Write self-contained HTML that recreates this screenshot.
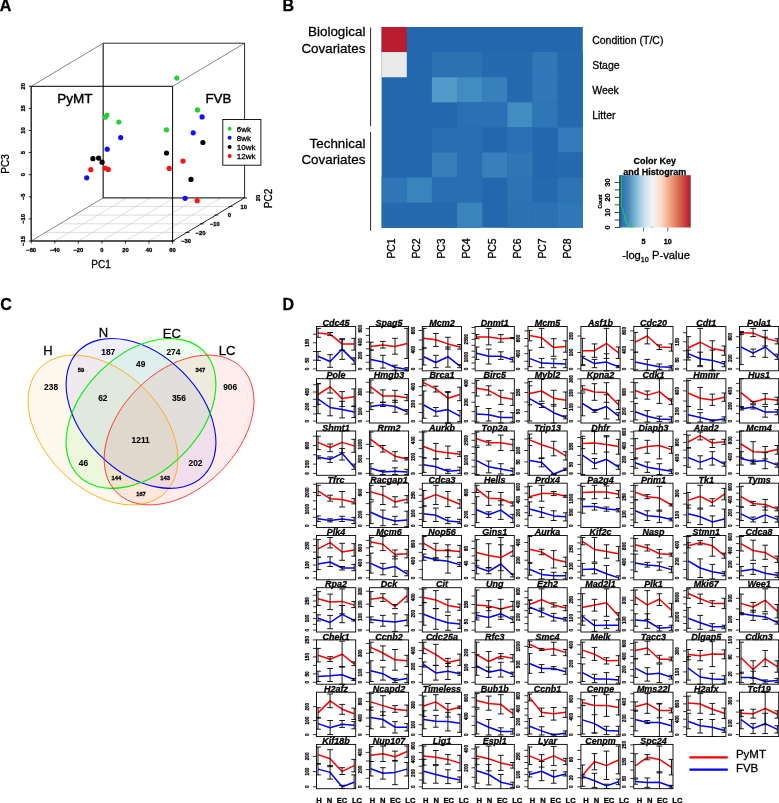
<!DOCTYPE html>
<html lang="en"><head><meta charset="utf-8"><title>Figure</title>
<style>html,body{margin:0;padding:0;background:#fff}body{width:779px;height:803px;overflow:hidden;font-family:'Liberation Sans', sans-serif}svg{display:block}</style>
</head><body>
<svg width="779" height="803" viewBox="0 0 779 803" font-family="'Liberation Sans', sans-serif" fill="#000" stroke-linecap="butt"><style>text{stroke:#000;stroke-width:0.28px;paint-order:stroke}.ns text{stroke-width:0.08px}</style>
<text x="-0.3" y="11" font-size="16" font-weight="bold">A</text>
<text x="282.4" y="11" font-size="16" font-weight="bold">B</text>
<text x="0.3" y="309.7" font-size="16" font-weight="bold">C</text>
<text x="282.5" y="309.7" font-size="16" font-weight="bold">D</text>
<g stroke="#cfcfd6" stroke-width="0.7"><line x1="45.6" y1="232.4" x2="187.0" y2="232.4"/><line x1="60.0" y1="223.8" x2="201.4" y2="223.8"/><line x1="74.4" y1="215.1" x2="215.8" y2="215.1"/><line x1="88.8" y1="206.5" x2="230.2" y2="206.5"/><line x1="54.8" y1="241.0" x2="126.8" y2="197.9"/><line x1="78.3" y1="241.0" x2="150.3" y2="197.9"/><line x1="101.9" y1="241.0" x2="173.9" y2="197.9"/><line x1="125.5" y1="241.0" x2="197.5" y2="197.9"/><line x1="149.0" y1="241.0" x2="221.0" y2="197.9"/></g>
<g stroke="#333" stroke-width="0.6" fill="none"><line x1="31.2" y1="86.3" x2="103.2" y2="43.199999999999996"/><line x1="172.6" y1="86.3" x2="244.6" y2="43.199999999999996"/><line x1="31.2" y1="241.0" x2="103.2" y2="197.9"/></g>
<g stroke="#111" stroke-width="0.9" fill="none"><path d="M103.2 43.2H244.6V197.9"/><line x1="172.6" y1="241.0" x2="244.6" y2="197.9"/></g>
<path d="M103.2 43.2V197.9H244.6" stroke="#333" stroke-width="1.3" fill="none"/>
<path d="M31.2 86.3H172.6V241.0" fill="none" stroke="#000" stroke-width="1.0"/>
<path d="M31.2 86.3V241.0H172.6" fill="none" stroke="#222" stroke-width="1.4"/>
<g stroke="#000" stroke-width="0.8"><line x1="31.2" y1="241.0" x2="31.2" y2="243.5"/><line x1="54.8" y1="241.0" x2="54.8" y2="243.5"/><line x1="78.3" y1="241.0" x2="78.3" y2="243.5"/><line x1="101.9" y1="241.0" x2="101.9" y2="243.5"/><line x1="125.5" y1="241.0" x2="125.5" y2="243.5"/><line x1="149.0" y1="241.0" x2="149.0" y2="243.5"/><line x1="172.6" y1="241.0" x2="172.6" y2="243.5"/><line x1="31.2" y1="241.0" x2="28.7" y2="241.0"/><line x1="31.2" y1="218.9" x2="28.7" y2="218.9"/><line x1="31.2" y1="196.8" x2="28.7" y2="196.8"/><line x1="31.2" y1="174.7" x2="28.7" y2="174.7"/><line x1="31.2" y1="152.6" x2="28.7" y2="152.6"/><line x1="31.2" y1="130.5" x2="28.7" y2="130.5"/><line x1="31.2" y1="108.4" x2="28.7" y2="108.4"/><line x1="31.2" y1="86.3" x2="28.7" y2="86.3"/><line x1="171.1" y1="241.0" x2="175.1" y2="241.0"/><line x1="185.5" y1="232.4" x2="189.5" y2="232.4"/><line x1="199.9" y1="223.8" x2="203.9" y2="223.8"/><line x1="214.3" y1="215.1" x2="218.3" y2="215.1"/><line x1="228.7" y1="206.5" x2="232.7" y2="206.5"/><line x1="243.1" y1="197.9" x2="247.1" y2="197.9"/></g>
<g font-size="5.8" font-weight="bold"><text x="31.2" y="252.2" text-anchor="middle">−60</text><text x="54.8" y="252.2" text-anchor="middle">−40</text><text x="78.3" y="252.2" text-anchor="middle">−20</text><text x="101.9" y="252.2" text-anchor="middle">0</text><text x="125.5" y="252.2" text-anchor="middle">20</text><text x="149.0" y="252.2" text-anchor="middle">40</text><text x="172.6" y="252.2" text-anchor="middle">60</text><text transform="translate(24.5,241.0) rotate(-90)" text-anchor="middle">−15</text><text transform="translate(24.5,218.9) rotate(-90)" text-anchor="middle">−10</text><text transform="translate(24.5,196.8) rotate(-90)" text-anchor="middle">−5</text><text transform="translate(24.5,174.7) rotate(-90)" text-anchor="middle">0</text><text transform="translate(24.5,152.6) rotate(-90)" text-anchor="middle">5</text><text transform="translate(24.5,130.5) rotate(-90)" text-anchor="middle">10</text><text transform="translate(24.5,108.4) rotate(-90)" text-anchor="middle">15</text><text transform="translate(24.5,86.3) rotate(-90)" text-anchor="middle">20</text><text x="186.1" y="243.1" text-anchor="middle">−30</text><text x="200.5" y="234.5" text-anchor="middle">−20</text><text x="214.9" y="225.9" text-anchor="middle">−10</text><text x="229.3" y="217.2" text-anchor="middle">0</text><text x="243.7" y="208.6" text-anchor="middle">10</text><text transform="translate(259.6,198) rotate(-90)" text-anchor="middle">20</text></g>
<text x="101" y="268.4" font-size="10" text-anchor="middle">PC1</text>
<text transform="translate(8.6,164) rotate(-90)" font-size="10" text-anchor="middle">PC3</text>
<text transform="translate(272,198.5) rotate(-90)" font-size="10" text-anchor="middle">PC2</text>
<text x="57.3" y="103.3" font-size="13.5" style="stroke-width:0.4px">PyMT</text>
<text x="205.4" y="103.2" font-size="13.3" style="stroke-width:0.4px">FVB</text>
<g fill="#26d030"><circle cx="176.8" cy="78.1" r="2.6"/><circle cx="106.9" cy="115.0" r="2.6"/><circle cx="105.3" cy="117.2" r="2.6"/><circle cx="118.8" cy="122.0" r="2.6"/><circle cx="166.5" cy="129.8" r="2.6"/><circle cx="197.5" cy="109.9" r="2.6"/></g>
<g fill="#1010ff"><circle cx="202.1" cy="116.9" r="2.6"/><circle cx="193.2" cy="132.8" r="2.6"/><circle cx="120.7" cy="137.6" r="2.6"/><circle cx="107.2" cy="149.2" r="2.6"/><circle cx="86.7" cy="177.8" r="2.6"/><circle cx="185.1" cy="198.3" r="2.6"/></g>
<g fill="#000000"><circle cx="202.9" cy="142.5" r="2.6"/><circle cx="166.5" cy="153.0" r="2.6"/><circle cx="92.9" cy="158.7" r="2.6"/><circle cx="98.6" cy="158.1" r="2.6"/><circle cx="102.1" cy="162.2" r="2.6"/><circle cx="191.0" cy="179.4" r="2.6"/></g>
<g fill="#ff1010"><circle cx="90.8" cy="169.7" r="2.6"/><circle cx="105.0" cy="168.1" r="2.6"/><circle cx="108.3" cy="169.4" r="2.6"/><circle cx="169.2" cy="168.4" r="2.6"/><circle cx="183.0" cy="161.1" r="2.6"/><circle cx="197.2" cy="200.7" r="2.6"/></g>
<rect x="222.8" y="119.5" width="38.1" height="45.7" fill="#fff" stroke="#000" stroke-width="0.9"/>
<circle cx="229.6" cy="128.7" r="2" fill="#26d030"/><text x="236.8" y="131.5" font-size="8" style="stroke-width:0.3px">6wk</text>
<circle cx="229.6" cy="137.8" r="2" fill="#1010ff"/><text x="236.8" y="140.6" font-size="8" style="stroke-width:0.3px">8wk</text>
<circle cx="229.6" cy="146.9" r="2" fill="#000"/><text x="236.8" y="149.7" font-size="8" style="stroke-width:0.3px">10wk</text>
<circle cx="229.6" cy="156.0" r="2" fill="#ff1010"/><text x="236.8" y="158.8" font-size="8" style="stroke-width:0.3px">12wk</text>
<rect x="381.6" y="27.0" width="201.2" height="200.8" fill="#2368ae"/>
<rect x="381.60" y="27.00" width="25.20" height="25.15" fill="#b81c2d"/>
<rect x="381.60" y="52.10" width="25.20" height="25.15" fill="#e9e9ea"/>
<rect x="431.90" y="52.10" width="25.20" height="25.15" fill="#2b72b3"/>
<rect x="457.05" y="52.10" width="25.20" height="25.15" fill="#2b72b3"/>
<rect x="482.20" y="52.10" width="25.20" height="25.15" fill="#256aaf"/>
<rect x="507.35" y="52.10" width="25.20" height="25.15" fill="#256aaf"/>
<rect x="532.50" y="52.10" width="25.20" height="25.15" fill="#3078b7"/>
<rect x="557.65" y="52.10" width="25.20" height="25.15" fill="#256aaf"/>
<rect x="431.90" y="77.20" width="25.20" height="25.15" fill="#519ac9"/>
<rect x="457.05" y="77.20" width="25.20" height="25.15" fill="#418cc1"/>
<rect x="482.20" y="77.20" width="25.20" height="25.15" fill="#3780bb"/>
<rect x="507.35" y="77.20" width="25.20" height="25.15" fill="#256aaf"/>
<rect x="532.50" y="77.20" width="25.20" height="25.15" fill="#3078b7"/>
<rect x="557.65" y="77.20" width="25.20" height="25.15" fill="#256aaf"/>
<rect x="457.05" y="102.30" width="25.20" height="25.15" fill="#2a70b2"/>
<rect x="482.20" y="102.30" width="25.20" height="25.15" fill="#2a70b2"/>
<rect x="507.35" y="102.30" width="25.20" height="25.15" fill="#418cc1"/>
<rect x="532.50" y="102.30" width="25.20" height="25.15" fill="#2f76b6"/>
<rect x="557.65" y="102.30" width="25.20" height="25.15" fill="#256aaf"/>
<rect x="431.90" y="127.40" width="25.20" height="25.15" fill="#286eb1"/>
<rect x="457.05" y="127.40" width="25.20" height="25.15" fill="#286eb1"/>
<rect x="507.35" y="127.40" width="25.20" height="25.15" fill="#2a70b2"/>
<rect x="557.65" y="127.40" width="25.20" height="25.15" fill="#327ab8"/>
<rect x="431.90" y="152.50" width="25.20" height="25.15" fill="#357eba"/>
<rect x="457.05" y="152.50" width="25.20" height="25.15" fill="#286eb1"/>
<rect x="482.20" y="152.50" width="25.20" height="25.15" fill="#3780bb"/>
<rect x="507.35" y="152.50" width="25.20" height="25.15" fill="#2f76b6"/>
<rect x="557.65" y="152.50" width="25.20" height="25.15" fill="#256aaf"/>
<rect x="381.60" y="177.60" width="25.20" height="25.15" fill="#2f76b6"/>
<rect x="406.75" y="177.60" width="25.20" height="25.15" fill="#3a84bd"/>
<rect x="431.90" y="177.60" width="25.20" height="25.15" fill="#286eb1"/>
<rect x="457.05" y="177.60" width="25.20" height="25.15" fill="#286eb1"/>
<rect x="507.35" y="177.60" width="25.20" height="25.15" fill="#2d74b4"/>
<rect x="532.50" y="177.60" width="25.20" height="25.15" fill="#256aaf"/>
<rect x="557.65" y="177.60" width="25.20" height="25.15" fill="#2d74b4"/>
<rect x="381.60" y="202.70" width="25.20" height="25.15" fill="#256aaf"/>
<rect x="406.75" y="202.70" width="25.20" height="25.15" fill="#256aaf"/>
<rect x="431.90" y="202.70" width="25.20" height="25.15" fill="#256aaf"/>
<rect x="457.05" y="202.70" width="25.20" height="25.15" fill="#3a84bd"/>
<rect x="507.35" y="202.70" width="25.20" height="25.15" fill="#2b72b3"/>
<rect x="532.50" y="202.70" width="25.20" height="25.15" fill="#2b72b3"/>
<rect x="557.65" y="202.70" width="25.20" height="25.15" fill="#3078b7"/>
<line x1="370.6" y1="27.5" x2="370.6" y2="126.2" stroke="#111" stroke-width="0.9"/>
<line x1="370.6" y1="132" x2="370.6" y2="230.7" stroke="#111" stroke-width="0.9"/>
<g font-size="13.4" text-anchor="end"><text x="365.4" y="36.3">Biological</text><text x="365.4" y="52.7">Covariates</text><text x="365.4" y="147.5">Technical</text><text x="365.4" y="164.3">Covariates</text></g>
<g font-size="10.5"><text x="592.2" y="44.1">Condition (T/C)</text><text x="592.2" y="69">Stage</text><text x="592.2" y="93.8">Week</text><text x="592.2" y="118.7">Litter</text></g>
<text transform="translate(394.9,258.6) rotate(-90)" font-size="10.4" style="stroke-width:0.32px">PC1</text>
<text transform="translate(420.0,258.6) rotate(-90)" font-size="10.4" style="stroke-width:0.32px">PC2</text>
<text transform="translate(445.2,258.6) rotate(-90)" font-size="10.4" style="stroke-width:0.32px">PC3</text>
<text transform="translate(470.3,258.6) rotate(-90)" font-size="10.4" style="stroke-width:0.32px">PC4</text>
<text transform="translate(495.5,258.6) rotate(-90)" font-size="10.4" style="stroke-width:0.32px">PC5</text>
<text transform="translate(520.6,258.6) rotate(-90)" font-size="10.4" style="stroke-width:0.32px">PC6</text>
<text transform="translate(545.8,258.6) rotate(-90)" font-size="10.4" style="stroke-width:0.32px">PC7</text>
<text transform="translate(570.9,258.6) rotate(-90)" font-size="10.4" style="stroke-width:0.32px">PC8</text>
<defs><linearGradient id="kg" x1="0" x2="1" y1="0" y2="0"><stop offset="0" stop-color="#2166ac"/><stop offset="0.12" stop-color="#3f8ec0"/><stop offset="0.25" stop-color="#8ec2dc"/><stop offset="0.36" stop-color="#cfe3ee"/><stop offset="0.46" stop-color="#f3f3f6"/><stop offset="0.58" stop-color="#fbdcc9"/><stop offset="0.70" stop-color="#f3a785"/><stop offset="0.84" stop-color="#d8654f"/><stop offset="1" stop-color="#b2182b"/></linearGradient></defs>
<rect x="619.7" y="175.2" width="71.0" height="52.3" fill="url(#kg)"/>
<g font-size="9" font-weight="bold" text-anchor="middle"><text x="654.8" y="164.3">Color Key</text><text x="654.8" y="174.9">and Histogram</text></g>
<polyline points="621.3,176 621.3,207 622.5,208.5 623.4,213.5 624.5,215.5 625.2,220 626.5,222.5 627.5,224.5 629,226.8 631.5,227" fill="none" stroke="#22dd33" stroke-width="0.9"/>
<path d="M630 227.2H634M651 227.2H653.5M687 227.2H690.7" stroke="#22dd33" stroke-width="0.8" fill="none" opacity="0.8"/>
<line x1="628.5" y1="176" x2="628.5" y2="222" stroke="#b0506a" stroke-width="0.8" stroke-dasharray="2 1.2"/>
<g stroke="#111" stroke-width="0.8"><line x1="614.6" y1="227.5" x2="619.7" y2="227.5"/><line x1="614.6" y1="220.0" x2="619.7" y2="220.0"/><line x1="614.6" y1="212.5" x2="619.7" y2="212.5"/><line x1="614.6" y1="204.9" x2="619.7" y2="204.9"/><line x1="614.6" y1="197.4" x2="619.7" y2="197.4"/><line x1="614.6" y1="189.9" x2="619.7" y2="189.9"/><line x1="614.6" y1="182.4" x2="619.7" y2="182.4"/><line x1="619.7" y1="175.2" x2="619.7" y2="227.5"/></g>
<g stroke="#3a4a9a" stroke-width="0.8"><line x1="643.6" y1="227.5" x2="643.6" y2="231.6"/><line x1="667.8" y1="227.5" x2="667.8" y2="231.6"/></g>
<text transform="translate(610.4,227.5) rotate(-90)" font-size="7.2" font-weight="bold" text-anchor="middle">0</text>
<text transform="translate(610.4,212.5) rotate(-90)" font-size="7.2" font-weight="bold" text-anchor="middle">10</text>
<text transform="translate(610.4,197.4) rotate(-90)" font-size="7.2" font-weight="bold" text-anchor="middle">20</text>
<text transform="translate(610.4,182.4) rotate(-90)" font-size="7.2" font-weight="bold" text-anchor="middle">30</text>
<text transform="translate(601.8,201.5) rotate(-90)" font-size="4.8" font-weight="bold" text-anchor="middle">Count</text>
<g font-size="7.2" font-weight="bold" text-anchor="middle"><text x="643.6" y="244">5</text><text x="667.8" y="244">10</text></g>
<text x="622.2" y="259.3" font-size="11.2">-log<tspan font-size="7.2" dy="2.2">10</tspan><tspan dy="-2.2"> P-value</tspan></text>
<ellipse cx="102.95" cy="430.0" rx="88.3" ry="58.6" transform="rotate(45 102.95 430.0)" fill="rgba(255,165,0,0.07)" stroke="none"/>
<ellipse cx="141" cy="413.4" rx="88.3" ry="58.6" transform="rotate(45 141 413.4)" fill="rgba(40,40,255,0.07)" stroke="none"/>
<ellipse cx="141" cy="413.4" rx="88.3" ry="58.6" transform="rotate(-45 141 413.4)" fill="rgba(0,230,0,0.07)" stroke="none"/>
<ellipse cx="179.05" cy="430.0" rx="88.3" ry="58.6" transform="rotate(-45 179.05 430.0)" fill="rgba(255,0,0,0.07)" stroke="none"/>
<ellipse cx="102.95" cy="430.0" rx="88.3" ry="58.6" transform="rotate(45 102.95 430.0)" fill="none" stroke="#ffa500" stroke-width="0.8"/>
<ellipse cx="141" cy="413.4" rx="88.3" ry="58.6" transform="rotate(45 141 413.4)" fill="none" stroke="#0000ff" stroke-width="1.1"/>
<ellipse cx="141" cy="413.4" rx="88.3" ry="58.6" transform="rotate(-45 141 413.4)" fill="none" stroke="#00ee00" stroke-width="1.1"/>
<ellipse cx="179.05" cy="430.0" rx="88.3" ry="58.6" transform="rotate(-45 179.05 430.0)" fill="none" stroke="#ff2020" stroke-width="0.8"/>
<g font-size="13" text-anchor="middle"><text x="47.9" y="355.3">H</text><text x="103.4" y="336.7">N</text><text x="171.8" y="338.3">EC</text><text x="227" y="355.3">LC</text></g>
<g font-size="8.4" text-anchor="middle" font-weight="bold" class="ns"><text x="108.3" y="354.5">187</text><text x="173.4" y="354.5">274</text><text x="140.7" y="367.0">49</text><text x="51.1" y="389.8">238</text><text x="230.2" y="389.8">906</text><text x="102.8" y="400.7">62</text><text x="178.9" y="400.7">356</text><text x="140.7" y="443.3">1211</text><text x="83.5" y="465.8">46</text><text x="195.5" y="465.8">202</text></g>
<g font-size="5.8" text-anchor="middle" font-weight="bold"><text x="81" y="371.8">59</text><text x="200.4" y="371.8">347</text><text x="116.3" y="480.3">144</text><text x="165.1" y="480.3">143</text><text x="141" y="496.4">167</text></g>
<g font-size="4.6" font-weight="bold" text-anchor="middle"><text transform="translate(308.9,368.9) rotate(-90)">0</text><text transform="translate(308.9,360.2) rotate(-90)">50</text><text transform="translate(308.9,342.8) rotate(-90)">150</text><text transform="translate(361.8,368.9) rotate(-90)">0</text><text transform="translate(361.8,355.5) rotate(-90)">200</text><text transform="translate(361.8,342.1) rotate(-90)">400</text><text transform="translate(361.8,328.7) rotate(-90)">600</text><text transform="translate(414.7,368.9) rotate(-90)">0</text><text transform="translate(414.7,349.7) rotate(-90)">400</text><text transform="translate(414.7,330.5) rotate(-90)">800</text><text transform="translate(467.5,368.9) rotate(-90)">0</text><text transform="translate(467.5,357.1) rotate(-90)">1000</text><text transform="translate(467.5,339.3) rotate(-90)">2500</text><text transform="translate(520.4,368.9) rotate(-90)">0</text><text transform="translate(520.4,353.7) rotate(-90)">400</text><text transform="translate(520.4,338.5) rotate(-90)">800</text><text transform="translate(573.3,368.9) rotate(-90)">0</text><text transform="translate(573.3,352.5) rotate(-90)">100</text><text transform="translate(573.3,336.0) rotate(-90)">200</text><text transform="translate(626.2,368.9) rotate(-90)">0</text><text transform="translate(626.2,349.9) rotate(-90)">400</text><text transform="translate(626.2,330.9) rotate(-90)">800</text><text transform="translate(679.1,368.9) rotate(-90)">0</text><text transform="translate(679.1,359.9) rotate(-90)">50</text><text transform="translate(679.1,341.8) rotate(-90)">150</text><text transform="translate(731.9,368.9) rotate(-90)">0</text><text transform="translate(731.9,358.2) rotate(-90)">200</text><text transform="translate(731.9,336.7) rotate(-90)">600</text><text transform="translate(308.9,421.1) rotate(-90)">0</text><text transform="translate(308.9,406.6) rotate(-90)">200</text><text transform="translate(308.9,392.0) rotate(-90)">400</text><text transform="translate(361.8,421.1) rotate(-90)">0</text><text transform="translate(361.8,411.4) rotate(-90)">100</text><text transform="translate(361.8,392.0) rotate(-90)">300</text><text transform="translate(414.7,421.1) rotate(-90)">0</text><text transform="translate(414.7,403.9) rotate(-90)">200</text><text transform="translate(414.7,386.7) rotate(-90)">400</text><text transform="translate(467.5,421.1) rotate(-90)">0</text><text transform="translate(467.5,402.2) rotate(-90)">200</text><text transform="translate(467.5,383.2) rotate(-90)">400</text><text transform="translate(520.4,421.1) rotate(-90)">0</text><text transform="translate(520.4,411.6) rotate(-90)">50</text><text transform="translate(520.4,392.5) rotate(-90)">150</text><text transform="translate(573.3,421.1) rotate(-90)">0</text><text transform="translate(573.3,407.1) rotate(-90)">100</text><text transform="translate(573.3,393.0) rotate(-90)">200</text><text transform="translate(573.3,379.0) rotate(-90)">300</text><text transform="translate(626.2,421.1) rotate(-90)">0</text><text transform="translate(626.2,411.4) rotate(-90)">200</text><text transform="translate(626.2,392.0) rotate(-90)">600</text><text transform="translate(679.1,421.1) rotate(-90)">0</text><text transform="translate(679.1,411.1) rotate(-90)">200</text><text transform="translate(679.1,390.9) rotate(-90)">600</text><text transform="translate(731.9,421.1) rotate(-90)">0</text><text transform="translate(731.9,406.0) rotate(-90)">200</text><text transform="translate(731.9,390.9) rotate(-90)">400</text><text transform="translate(308.9,473.4) rotate(-90)">0</text><text transform="translate(308.9,464.1) rotate(-90)">200</text><text transform="translate(308.9,445.5) rotate(-90)">600</text><text transform="translate(361.8,473.4) rotate(-90)">0</text><text transform="translate(361.8,458.8) rotate(-90)">500</text><text transform="translate(361.8,444.3) rotate(-90)">1000</text><text transform="translate(414.7,473.4) rotate(-90)">0</text><text transform="translate(414.7,456.8) rotate(-90)">200</text><text transform="translate(414.7,440.3) rotate(-90)">400</text><text transform="translate(467.5,473.4) rotate(-90)">0</text><text transform="translate(467.5,460.1) rotate(-90)">1000</text><text transform="translate(467.5,440.3) rotate(-90)">2500</text><text transform="translate(520.4,473.4) rotate(-90)">0</text><text transform="translate(520.4,461.9) rotate(-90)">50</text><text transform="translate(520.4,450.5) rotate(-90)">100</text><text transform="translate(573.3,473.4) rotate(-90)">0</text><text transform="translate(573.3,464.4) rotate(-90)">50</text><text transform="translate(573.3,446.5) rotate(-90)">150</text><text transform="translate(626.2,473.4) rotate(-90)">0</text><text transform="translate(626.2,459.5) rotate(-90)">200</text><text transform="translate(626.2,445.7) rotate(-90)">400</text><text transform="translate(626.2,431.9) rotate(-90)">600</text><text transform="translate(679.1,473.4) rotate(-90)">0</text><text transform="translate(679.1,457.9) rotate(-90)">400</text><text transform="translate(679.1,442.4) rotate(-90)">800</text><text transform="translate(731.9,473.4) rotate(-90)">0</text><text transform="translate(731.9,456.8) rotate(-90)">400</text><text transform="translate(731.9,440.3) rotate(-90)">800</text><text transform="translate(308.9,525.6) rotate(-90)">0</text><text transform="translate(308.9,509.1) rotate(-90)">1000</text><text transform="translate(308.9,492.5) rotate(-90)">2000</text><text transform="translate(361.8,525.6) rotate(-90)">0</text><text transform="translate(361.8,514.6) rotate(-90)">200</text><text transform="translate(361.8,492.5) rotate(-90)">600</text><text transform="translate(414.7,525.6) rotate(-90)">0</text><text transform="translate(414.7,513.4) rotate(-90)">100</text><text transform="translate(414.7,495.2) rotate(-90)">250</text><text transform="translate(467.5,525.6) rotate(-90)">0</text><text transform="translate(467.5,514.6) rotate(-90)">200</text><text transform="translate(467.5,492.5) rotate(-90)">600</text><text transform="translate(520.4,525.6) rotate(-90)">0</text><text transform="translate(520.4,512.7) rotate(-90)">200</text><text transform="translate(520.4,499.7) rotate(-90)">400</text><text transform="translate(520.4,486.8) rotate(-90)">600</text><text transform="translate(573.3,525.6) rotate(-90)">0</text><text transform="translate(573.3,512.2) rotate(-90)">500</text><text transform="translate(573.3,498.7) rotate(-90)">1000</text><text transform="translate(626.2,525.6) rotate(-90)">0</text><text transform="translate(626.2,514.2) rotate(-90)">100</text><text transform="translate(626.2,497.0) rotate(-90)">250</text><text transform="translate(679.1,525.6) rotate(-90)">0</text><text transform="translate(679.1,514.9) rotate(-90)">100</text><text transform="translate(679.1,493.4) rotate(-90)">300</text><text transform="translate(731.9,525.6) rotate(-90)">0</text><text transform="translate(731.9,512.7) rotate(-90)">200</text><text transform="translate(731.9,499.7) rotate(-90)">400</text><text transform="translate(731.9,486.8) rotate(-90)">600</text><text transform="translate(308.9,577.9) rotate(-90)">0</text><text transform="translate(308.9,565.0) rotate(-90)">100</text><text transform="translate(308.9,545.6) rotate(-90)">250</text><text transform="translate(361.8,577.9) rotate(-90)">0</text><text transform="translate(361.8,562.9) rotate(-90)">400</text><text transform="translate(361.8,547.9) rotate(-90)">800</text><text transform="translate(414.7,577.9) rotate(-90)">0</text><text transform="translate(414.7,560.9) rotate(-90)">400</text><text transform="translate(414.7,543.9) rotate(-90)">800</text><text transform="translate(467.5,577.9) rotate(-90)">0</text><text transform="translate(467.5,563.2) rotate(-90)">40</text><text transform="translate(467.5,548.5) rotate(-90)">80</text><text transform="translate(520.4,577.9) rotate(-90)">0</text><text transform="translate(520.4,560.2) rotate(-90)">200</text><text transform="translate(520.4,542.5) rotate(-90)">400</text><text transform="translate(573.3,577.9) rotate(-90)">0</text><text transform="translate(573.3,566.2) rotate(-90)">100</text><text transform="translate(573.3,548.8) rotate(-90)">250</text><text transform="translate(626.2,577.9) rotate(-90)">0</text><text transform="translate(626.2,562.0) rotate(-90)">400</text><text transform="translate(626.2,546.1) rotate(-90)">800</text><text transform="translate(679.1,577.9) rotate(-90)">0</text><text transform="translate(679.1,561.3) rotate(-90)">200</text><text transform="translate(679.1,544.8) rotate(-90)">400</text><text transform="translate(731.9,577.9) rotate(-90)">0</text><text transform="translate(731.9,564.2) rotate(-90)">200</text><text transform="translate(731.9,550.5) rotate(-90)">400</text><text transform="translate(731.9,536.8) rotate(-90)">600</text><text transform="translate(308.9,630.1) rotate(-90)">0</text><text transform="translate(308.9,618.5) rotate(-90)">100</text><text transform="translate(308.9,601.0) rotate(-90)">250</text><text transform="translate(361.8,630.1) rotate(-90)">0</text><text transform="translate(361.8,617.1) rotate(-90)">100</text><text transform="translate(361.8,604.2) rotate(-90)">200</text><text transform="translate(361.8,591.2) rotate(-90)">300</text><text transform="translate(414.7,630.1) rotate(-90)">0</text><text transform="translate(414.7,613.7) rotate(-90)">200</text><text transform="translate(414.7,597.2) rotate(-90)">400</text><text transform="translate(467.5,630.1) rotate(-90)">0</text><text transform="translate(467.5,621.6) rotate(-90)">50</text><text transform="translate(467.5,604.5) rotate(-90)">150</text><text transform="translate(520.4,630.1) rotate(-90)">0</text><text transform="translate(520.4,617.1) rotate(-90)">200</text><text transform="translate(520.4,604.2) rotate(-90)">400</text><text transform="translate(520.4,591.2) rotate(-90)">600</text><text transform="translate(573.3,630.1) rotate(-90)">0</text><text transform="translate(573.3,617.9) rotate(-90)">100</text><text transform="translate(573.3,599.7) rotate(-90)">250</text><text transform="translate(626.2,630.1) rotate(-90)">0</text><text transform="translate(626.2,620.2) rotate(-90)">100</text><text transform="translate(626.2,600.3) rotate(-90)">300</text><text transform="translate(679.1,630.1) rotate(-90)">0</text><text transform="translate(679.1,616.9) rotate(-90)">2000</text><text transform="translate(679.1,597.2) rotate(-90)">5000</text><text transform="translate(731.9,630.1) rotate(-90)">0</text><text transform="translate(731.9,619.5) rotate(-90)">100</text><text transform="translate(731.9,598.3) rotate(-90)">300</text><text transform="translate(308.9,682.3) rotate(-90)">0</text><text transform="translate(308.9,673.9) rotate(-90)">50</text><text transform="translate(308.9,656.9) rotate(-90)">150</text><text transform="translate(308.9,639.9) rotate(-90)">250</text><text transform="translate(361.8,682.3) rotate(-90)">0</text><text transform="translate(361.8,672.6) rotate(-90)">100</text><text transform="translate(361.8,653.2) rotate(-90)">300</text><text transform="translate(414.7,682.3) rotate(-90)">0</text><text transform="translate(414.7,666.5) rotate(-90)">200</text><text transform="translate(414.7,650.6) rotate(-90)">400</text><text transform="translate(467.5,682.3) rotate(-90)">0</text><text transform="translate(467.5,667.5) rotate(-90)">100</text><text transform="translate(467.5,652.6) rotate(-90)">200</text><text transform="translate(520.4,682.3) rotate(-90)">0</text><text transform="translate(520.4,664.3) rotate(-90)">500</text><text transform="translate(520.4,646.4) rotate(-90)">1000</text><text transform="translate(573.3,682.3) rotate(-90)">0</text><text transform="translate(573.3,663.6) rotate(-90)">200</text><text transform="translate(573.3,644.8) rotate(-90)">400</text><text transform="translate(626.2,682.3) rotate(-90)">0</text><text transform="translate(626.2,669.4) rotate(-90)">200</text><text transform="translate(626.2,656.4) rotate(-90)">400</text><text transform="translate(626.2,643.5) rotate(-90)">600</text><text transform="translate(679.1,682.3) rotate(-90)">0</text><text transform="translate(679.1,671.9) rotate(-90)">100</text><text transform="translate(679.1,651.0) rotate(-90)">300</text><text transform="translate(731.9,682.3) rotate(-90)">0</text><text transform="translate(731.9,673.9) rotate(-90)">20</text><text transform="translate(731.9,656.9) rotate(-90)">60</text><text transform="translate(731.9,639.9) rotate(-90)">100</text><text transform="translate(308.9,734.6) rotate(-90)">0</text><text transform="translate(308.9,720.6) rotate(-90)">100</text><text transform="translate(308.9,706.7) rotate(-90)">200</text><text transform="translate(361.8,734.6) rotate(-90)">0</text><text transform="translate(361.8,718.0) rotate(-90)">400</text><text transform="translate(361.8,701.5) rotate(-90)">800</text><text transform="translate(414.7,734.6) rotate(-90)">0</text><text transform="translate(414.7,724.7) rotate(-90)">100</text><text transform="translate(414.7,705.0) rotate(-90)">300</text><text transform="translate(467.5,734.6) rotate(-90)">0</text><text transform="translate(467.5,716.2) rotate(-90)">400</text><text transform="translate(467.5,697.8) rotate(-90)">800</text><text transform="translate(520.4,734.6) rotate(-90)">0</text><text transform="translate(520.4,721.6) rotate(-90)">200</text><text transform="translate(520.4,708.7) rotate(-90)">400</text><text transform="translate(520.4,695.7) rotate(-90)">600</text><text transform="translate(573.3,734.6) rotate(-90)">0</text><text transform="translate(573.3,716.7) rotate(-90)">400</text><text transform="translate(573.3,698.8) rotate(-90)">800</text><text transform="translate(626.2,734.6) rotate(-90)">0</text><text transform="translate(626.2,718.3) rotate(-90)">200</text><text transform="translate(626.2,701.9) rotate(-90)">400</text><text transform="translate(679.1,734.6) rotate(-90)">0</text><text transform="translate(679.1,719.2) rotate(-90)">400</text><text transform="translate(679.1,703.9) rotate(-90)">800</text><text transform="translate(731.9,734.6) rotate(-90)">0</text><text transform="translate(731.9,723.3) rotate(-90)">100</text><text transform="translate(731.9,700.9) rotate(-90)">300</text><text transform="translate(308.9,786.8) rotate(-90)">0</text><text transform="translate(308.9,771.6) rotate(-90)">100</text><text transform="translate(308.9,756.4) rotate(-90)">200</text><text transform="translate(361.8,786.8) rotate(-90)">0</text><text transform="translate(361.8,769.6) rotate(-90)">200</text><text transform="translate(361.8,752.4) rotate(-90)">400</text><text transform="translate(414.7,786.8) rotate(-90)">0</text><text transform="translate(414.7,773.1) rotate(-90)">200</text><text transform="translate(414.7,759.4) rotate(-90)">400</text><text transform="translate(414.7,745.7) rotate(-90)">600</text><text transform="translate(467.5,786.8) rotate(-90)">0</text><text transform="translate(467.5,767.8) rotate(-90)">200</text><text transform="translate(467.5,748.9) rotate(-90)">400</text><text transform="translate(520.4,786.8) rotate(-90)">0</text><text transform="translate(520.4,774.6) rotate(-90)">100</text><text transform="translate(520.4,756.4) rotate(-90)">250</text><text transform="translate(573.3,786.8) rotate(-90)">0</text><text transform="translate(573.3,777.7) rotate(-90)">20</text><text transform="translate(573.3,759.5) rotate(-90)">60</text><text transform="translate(626.2,786.8) rotate(-90)">0</text><text transform="translate(626.2,778.4) rotate(-90)">50</text><text transform="translate(626.2,761.6) rotate(-90)">150</text><text transform="translate(626.2,744.9) rotate(-90)">250</text></g>
<path d="M312.9 368.9H316.5M312.9 360.2H316.5M312.9 351.5H316.5M312.9 342.8H316.5M312.9 334.2H316.5M365.8 368.9H369.4M365.8 362.2H369.4M365.8 355.5H369.4M365.8 348.8H369.4M365.8 342.1H369.4M365.8 335.4H369.4M365.8 328.7H369.4M418.7 368.9H422.3M418.7 359.3H422.3M418.7 349.7H422.3M418.7 340.1H422.3M418.7 330.5H422.3M471.5 368.9H475.1M471.5 363.0H475.1M471.5 357.1H475.1M471.5 351.2H475.1M471.5 345.3H475.1M471.5 339.3H475.1M471.5 333.4H475.1M471.5 327.5H475.1M524.4 368.9H528.0M524.4 361.3H528.0M524.4 353.7H528.0M524.4 346.1H528.0M524.4 338.5H528.0M524.4 330.9H528.0M577.3 368.9H580.9M577.3 352.5H580.9M577.3 336.0H580.9M630.2 368.9H633.8M630.2 359.4H633.8M630.2 349.9H633.8M630.2 340.4H633.8M630.2 330.9H633.8M683.1 368.9H686.7M683.1 359.9H686.7M683.1 350.8H686.7M683.1 341.8H686.7M683.1 332.7H686.7M735.9 368.9H739.5M735.9 358.2H739.5M735.9 347.4H739.5M735.9 336.7H739.5M312.9 421.1H316.5M312.9 413.9H316.5M312.9 406.6H316.5M312.9 399.3H316.5M312.9 392.0H316.5M312.9 384.8H316.5M365.8 421.1H369.4M365.8 411.4H369.4M365.8 401.7H369.4M365.8 392.0H369.4M365.8 382.3H369.4M418.7 421.1H422.3M418.7 412.5H422.3M418.7 403.9H422.3M418.7 395.3H422.3M418.7 386.7H422.3M471.5 421.1H475.1M471.5 411.6H475.1M471.5 402.2H475.1M471.5 392.7H475.1M471.5 383.2H475.1M524.4 421.1H528.0M524.4 411.6H528.0M524.4 402.0H528.0M524.4 392.5H528.0M524.4 382.9H528.0M577.3 421.1H580.9M577.3 407.1H580.9M577.3 393.0H580.9M577.3 379.0H580.9M630.2 421.1H633.8M630.2 411.4H633.8M630.2 401.7H633.8M630.2 392.0H633.8M630.2 382.3H633.8M683.1 421.1H686.7M683.1 411.1H686.7M683.1 401.0H686.7M683.1 390.9H686.7M683.1 380.9H686.7M735.9 421.1H739.5M735.9 413.6H739.5M735.9 406.0H739.5M735.9 398.5H739.5M735.9 390.9H739.5M735.9 383.4H739.5M312.9 473.4H316.5M312.9 464.1H316.5M312.9 454.8H316.5M312.9 445.5H316.5M312.9 436.2H316.5M365.8 473.4H369.4M365.8 458.8H369.4M365.8 444.3H369.4M418.7 473.4H422.3M418.7 465.1H422.3M418.7 456.8H422.3M418.7 448.6H422.3M418.7 440.3H422.3M418.7 432.0H422.3M471.5 473.4H475.1M471.5 466.8H475.1M471.5 460.1H475.1M471.5 453.5H475.1M471.5 446.9H475.1M471.5 440.3H475.1M471.5 433.7H475.1M524.4 473.4H528.0M524.4 461.9H528.0M524.4 450.5H528.0M524.4 439.0H528.0M577.3 473.4H580.9M577.3 464.4H580.9M577.3 455.4H580.9M577.3 446.5H580.9M577.3 437.5H580.9M630.2 473.4H633.8M630.2 466.5H633.8M630.2 459.5H633.8M630.2 452.6H633.8M630.2 445.7H633.8M630.2 438.8H633.8M630.2 431.9H633.8M683.1 473.4H686.7M683.1 465.6H686.7M683.1 457.9H686.7M683.1 450.1H686.7M683.1 442.4H686.7M683.1 434.6H686.7M735.9 473.4H739.5M735.9 465.1H739.5M735.9 456.8H739.5M735.9 448.6H739.5M735.9 440.3H739.5M735.9 432.0H739.5M312.9 525.6H316.5M312.9 517.3H316.5M312.9 509.1H316.5M312.9 500.8H316.5M312.9 492.5H316.5M312.9 484.2H316.5M365.8 525.6H369.4M365.8 514.6H369.4M365.8 503.6H369.4M365.8 492.5H369.4M418.7 525.6H422.3M418.7 519.5H422.3M418.7 513.4H422.3M418.7 507.4H422.3M418.7 501.3H422.3M418.7 495.2H422.3M418.7 489.1H422.3M471.5 525.6H475.1M471.5 514.6H475.1M471.5 503.6H475.1M471.5 492.5H475.1M524.4 525.6H528.0M524.4 519.1H528.0M524.4 512.7H528.0M524.4 506.2H528.0M524.4 499.7H528.0M524.4 493.2H528.0M524.4 486.8H528.0M577.3 525.6H580.9M577.3 512.2H580.9M577.3 498.7H580.9M577.3 485.3H580.9M630.2 525.6H633.8M630.2 519.9H633.8M630.2 514.2H633.8M630.2 508.4H633.8M630.2 502.7H633.8M630.2 497.0H633.8M630.2 491.2H633.8M630.2 485.5H633.8M683.1 525.6H686.7M683.1 514.9H686.7M683.1 504.1H686.7M683.1 493.4H686.7M735.9 525.6H739.5M735.9 519.1H739.5M735.9 512.7H739.5M735.9 506.2H739.5M735.9 499.7H739.5M735.9 493.2H739.5M735.9 486.8H739.5M312.9 577.9H316.5M312.9 571.4H316.5M312.9 565.0H316.5M312.9 558.5H316.5M312.9 552.1H316.5M312.9 545.6H316.5M312.9 539.2H316.5M365.8 577.9H369.4M365.8 570.4H369.4M365.8 562.9H369.4M365.8 555.4H369.4M365.8 547.9H369.4M365.8 540.4H369.4M418.7 577.9H422.3M418.7 569.4H422.3M418.7 560.9H422.3M418.7 552.4H422.3M418.7 543.9H422.3M471.5 577.9H475.1M471.5 570.5H475.1M471.5 563.2H475.1M471.5 555.9H475.1M471.5 548.5H475.1M471.5 541.2H475.1M524.4 577.9H528.0M524.4 569.0H528.0M524.4 560.2H528.0M524.4 551.4H528.0M524.4 542.5H528.0M577.3 577.9H580.9M577.3 572.0H580.9M577.3 566.2H580.9M577.3 560.4H580.9M577.3 554.6H580.9M577.3 548.8H580.9M577.3 542.9H580.9M577.3 537.1H580.9M630.2 577.9H633.8M630.2 569.9H633.8M630.2 562.0H633.8M630.2 554.0H633.8M630.2 546.1H633.8M630.2 538.2H633.8M683.1 577.9H686.7M683.1 569.6H686.7M683.1 561.3H686.7M683.1 553.0H686.7M683.1 544.8H686.7M683.1 536.5H686.7M735.9 577.9H739.5M735.9 571.0H739.5M735.9 564.2H739.5M735.9 557.3H739.5M735.9 550.5H739.5M735.9 543.6H739.5M735.9 536.8H739.5M312.9 630.1H316.5M312.9 624.3H316.5M312.9 618.5H316.5M312.9 612.6H316.5M312.9 606.8H316.5M312.9 601.0H316.5M312.9 595.2H316.5M312.9 589.3H316.5M365.8 630.1H369.4M365.8 617.1H369.4M365.8 604.2H369.4M365.8 591.2H369.4M418.7 630.1H422.3M418.7 621.9H422.3M418.7 613.7H422.3M418.7 605.4H422.3M418.7 597.2H422.3M418.7 589.0H422.3M471.5 630.1H475.1M471.5 621.6H475.1M471.5 613.1H475.1M471.5 604.5H475.1M471.5 596.0H475.1M524.4 630.1H528.0M524.4 623.6H528.0M524.4 617.1H528.0M524.4 610.7H528.0M524.4 604.2H528.0M524.4 597.7H528.0M524.4 591.2H528.0M577.3 630.1H580.9M577.3 624.0H580.9M577.3 617.9H580.9M577.3 611.8H580.9M577.3 605.7H580.9M577.3 599.7H580.9M577.3 593.6H580.9M630.2 630.1H633.8M630.2 620.2H633.8M630.2 610.2H633.8M630.2 600.3H633.8M630.2 590.4H633.8M683.1 630.1H686.7M683.1 623.5H686.7M683.1 616.9H686.7M683.1 610.4H686.7M683.1 603.8H686.7M683.1 597.2H686.7M683.1 590.7H686.7M735.9 630.1H739.5M735.9 619.5H739.5M735.9 608.9H739.5M735.9 598.3H739.5M312.9 682.3H316.5M312.9 673.9H316.5M312.9 665.4H316.5M312.9 656.9H316.5M312.9 648.4H316.5M312.9 639.9H316.5M365.8 682.3H369.4M365.8 672.6H369.4M365.8 662.9H369.4M365.8 653.2H369.4M365.8 643.5H369.4M418.7 682.3H422.3M418.7 674.4H422.3M418.7 666.5H422.3M418.7 658.5H422.3M418.7 650.6H422.3M418.7 642.6H422.3M471.5 682.3H475.1M471.5 667.5H475.1M471.5 652.6H475.1M524.4 682.3H528.0M524.4 664.3H528.0M524.4 646.4H528.0M577.3 682.3H580.9M577.3 673.0H580.9M577.3 663.6H580.9M577.3 654.2H580.9M577.3 644.8H580.9M630.2 682.3H633.8M630.2 675.9H633.8M630.2 669.4H633.8M630.2 662.9H633.8M630.2 656.4H633.8M630.2 650.0H633.8M630.2 643.5H633.8M683.1 682.3H686.7M683.1 671.9H686.7M683.1 661.5H686.7M683.1 651.0H686.7M735.9 682.3H739.5M735.9 673.9H739.5M735.9 665.4H739.5M735.9 656.9H739.5M735.9 648.4H739.5M735.9 639.9H739.5M312.9 734.6H316.5M312.9 720.6H316.5M312.9 706.7H316.5M365.8 734.6H369.4M365.8 726.3H369.4M365.8 718.0H369.4M365.8 709.8H369.4M365.8 701.5H369.4M365.8 693.2H369.4M418.7 734.6H422.3M418.7 724.7H422.3M418.7 714.9H422.3M418.7 705.0H422.3M418.7 695.2H422.3M471.5 734.6H475.1M471.5 725.4H475.1M471.5 716.2H475.1M471.5 707.0H475.1M471.5 697.8H475.1M524.4 734.6H528.0M524.4 728.1H528.0M524.4 721.6H528.0M524.4 715.1H528.0M524.4 708.7H528.0M524.4 702.2H528.0M524.4 695.7H528.0M577.3 734.6H580.9M577.3 725.6H580.9M577.3 716.7H580.9M577.3 707.8H580.9M577.3 698.8H580.9M630.2 734.6H633.8M630.2 726.4H633.8M630.2 718.3H633.8M630.2 710.1H633.8M630.2 701.9H633.8M630.2 693.8H633.8M683.1 734.6H686.7M683.1 726.9H686.7M683.1 719.2H686.7M683.1 711.6H686.7M683.1 703.9H686.7M683.1 696.3H686.7M735.9 734.6H739.5M735.9 723.3H739.5M735.9 712.1H739.5M735.9 700.9H739.5M312.9 786.8H316.5M312.9 771.6H316.5M312.9 756.4H316.5M365.8 786.8H369.4M365.8 778.2H369.4M365.8 769.6H369.4M365.8 761.0H369.4M365.8 752.4H369.4M418.7 786.8H422.3M418.7 780.0H422.3M418.7 773.1H422.3M418.7 766.3H422.3M418.7 759.4H422.3M418.7 752.6H422.3M418.7 745.7H422.3M471.5 786.8H475.1M471.5 777.3H475.1M471.5 767.8H475.1M471.5 758.3H475.1M471.5 748.9H475.1M524.4 786.8H528.0M524.4 780.7H528.0M524.4 774.6H528.0M524.4 768.6H528.0M524.4 762.5H528.0M524.4 756.4H528.0M524.4 750.3H528.0M577.3 786.8H580.9M577.3 777.7H580.9M577.3 768.6H580.9M577.3 759.5H580.9M577.3 750.4H580.9M630.2 786.8H633.8M630.2 778.4H633.8M630.2 770.0H633.8M630.2 761.6H633.8M630.2 753.3H633.8M630.2 744.9H633.8" stroke="#000" stroke-width="0.8" fill="none"/>
<g fill="none" stroke="#ff0000" stroke-width="1.5" stroke-linejoin="round"><polyline points="318.0,332.9 330.1,334.2 342.1,343.9 354.2,343.9"/><polyline points="370.8,346.4 382.9,344.9 395.0,346.4 407.1,343.5"/><polyline points="423.7,338.3 435.8,339.7 447.9,343.9 460.0,347.0"/><polyline points="476.6,337.1 488.7,337.1 500.8,338.7 512.9,338.1"/><polyline points="529.5,335.6 541.6,337.7 553.7,347.6 565.8,346.6"/><polyline points="582.4,350.7 594.5,350.7 606.5,343.5 618.6,352.8"/><polyline points="635.2,342.2 647.3,336.0 659.4,347.0 671.5,347.6"/><polyline points="688.1,348.0 700.2,342.2 712.3,348.4 724.4,350.7"/><polyline points="741.0,333.1 753.1,333.1 765.2,338.1 777.3,341.4"/><polyline points="318.0,394.5 330.1,386.8 342.1,398.6 354.2,396.7"/><polyline points="370.8,386.8 382.9,396.1 395.0,396.1 407.1,397.8"/><polyline points="423.7,382.7 435.8,388.9 447.9,398.2 460.0,394.5"/><polyline points="476.6,388.3 488.7,390.3 500.8,397.2 512.9,399.2"/><polyline points="529.5,393.4 541.6,391.0 553.7,398.2 565.8,400.3"/><polyline points="582.4,388.5 594.5,392.0 606.5,392.6 618.6,404.8"/><polyline points="635.2,390.5 647.3,395.1 659.4,391.6 671.5,401.3"/><polyline points="688.1,393.0 700.2,398.2 712.3,399.9 724.4,397.2"/><polyline points="741.0,392.6 753.1,402.3 765.2,398.8 777.3,400.3"/><polyline points="318.0,442.4 330.1,447.5 342.1,442.4 354.2,445.9"/><polyline points="370.8,439.3 382.9,448.6 395.0,456.2 407.1,458.9"/><polyline points="423.7,446.5 435.8,451.3 447.9,452.7 460.0,454.2"/><polyline points="476.6,438.8 488.7,442.8 500.8,442.8 512.9,444.8"/><polyline points="529.5,439.9 541.6,444.8 553.7,448.6 565.8,455.8"/><polyline points="582.4,443.4 594.5,443.0 606.5,444.4 618.6,446.5"/><polyline points="635.2,449.2 647.3,446.5 659.4,445.5 671.5,449.6"/><polyline points="688.1,442.0 700.2,435.7 712.3,443.0 724.4,441.7"/><polyline points="741.0,444.0 753.1,451.7 765.2,452.3 777.3,449.6"/><polyline points="318.0,490.9 330.1,498.7 342.1,499.4 354.2,502.5"/><polyline points="370.8,491.9 382.9,495.2 395.0,501.9 407.1,499.2"/><polyline points="423.7,499.2 435.8,494.6 447.9,499.2 460.0,504.3"/><polyline points="476.6,488.8 488.7,498.3 500.8,498.7 512.9,503.9"/><polyline points="529.5,496.7 541.6,493.6 553.7,493.6 565.8,496.3"/><polyline points="582.4,492.5 594.5,492.1 606.5,492.1 618.6,494.2"/><polyline points="635.2,492.1 647.3,496.7 659.4,498.1 671.5,505.0"/><polyline points="688.1,500.4 700.2,496.3 712.3,502.5 724.4,494.2"/><polyline points="741.0,496.7 753.1,503.5 765.2,504.5 777.3,509.1"/><polyline points="318.0,548.9 330.1,542.7 342.1,552.0 354.2,550.0"/><polyline points="370.8,542.1 382.9,544.2 395.0,554.5 407.1,553.7"/><polyline points="423.7,543.3 435.8,550.4 447.9,550.6 460.0,551.6"/><polyline points="476.6,552.6 488.7,555.5 500.8,557.6 512.9,551.0"/><polyline points="529.5,549.3 541.6,552.0 553.7,559.3 565.8,562.0"/><polyline points="582.4,541.3 594.5,549.5 606.5,551.6 618.6,553.7"/><polyline points="635.2,544.8 647.3,547.9 659.4,553.7 671.5,554.5"/><polyline points="688.1,545.8 700.2,542.7 712.3,545.8 724.4,555.7"/><polyline points="741.0,543.7 753.1,550.6 765.2,552.6 777.3,559.3"/><polyline points="318.0,598.7 330.1,602.0 342.1,601.4 354.2,605.1"/><polyline points="370.8,599.3 382.9,597.6 395.0,606.5 407.1,595.6"/><polyline points="423.7,597.6 435.8,599.9 447.9,605.5 460.0,607.6"/><polyline points="476.6,605.1 488.7,605.9 500.8,609.0 512.9,605.9"/><polyline points="529.5,604.5 541.6,599.7 553.7,604.9 565.8,608.0"/><polyline points="582.4,607.6 594.5,605.1 606.5,602.8 618.6,615.9"/><polyline points="635.2,596.8 647.3,604.9 659.4,599.3 671.5,610.3"/><polyline points="688.1,593.5 700.2,598.7 712.3,603.4 724.4,603.4"/><polyline points="741.0,603.4 753.1,607.0 765.2,600.3 777.3,611.1"/><polyline points="318.0,655.3 330.1,659.2 342.1,654.2 354.2,664.0"/><polyline points="370.8,647.4 382.9,653.0 395.0,659.8 407.1,660.8"/><polyline points="423.7,647.8 435.8,654.6 447.9,662.5 460.0,659.8"/><polyline points="476.6,654.6 488.7,661.5 500.8,656.3 512.9,658.2"/><polyline points="529.5,644.3 541.6,649.9 553.7,648.8 565.8,652.6"/><polyline points="582.4,650.1 594.5,654.2 606.5,660.8 618.6,660.4"/><polyline points="635.2,650.5 647.3,648.0 659.4,659.2 671.5,659.2"/><polyline points="688.1,654.6 700.2,655.7 712.3,654.0 724.4,654.2"/><polyline points="741.0,657.7 753.1,669.5 765.2,658.8 777.3,666.6"/><polyline points="318.0,712.9 330.1,700.9 342.1,709.2 354.2,713.7"/><polyline points="370.8,701.9 382.9,705.6 395.0,709.2 407.1,710.6"/><polyline points="423.7,706.0 435.8,701.9 447.9,710.2 460.0,707.1"/><polyline points="476.6,700.5 488.7,703.6 500.8,704.4 512.9,713.7"/><polyline points="529.5,697.4 541.6,712.3 553.7,713.7 565.8,712.3"/><polyline points="582.4,702.5 594.5,705.4 606.5,705.4 618.6,707.5"/><polyline points="635.2,706.7 647.3,703.6 659.4,710.6 671.5,710.6"/><polyline points="688.1,702.9 700.2,704.0 712.3,709.2 724.4,713.3"/><polyline points="741.0,713.3 753.1,713.7 765.2,708.5 777.3,714.3"/><polyline points="318.0,754.6 330.1,758.8 342.1,771.4 354.2,765.6"/><polyline points="370.8,755.3 382.9,753.8 395.0,756.7 407.1,751.5"/><polyline points="423.7,755.9 435.8,757.3 447.9,759.4 460.0,763.1"/><polyline points="476.6,755.9 488.7,758.8 500.8,762.9 512.9,765.6"/><polyline points="529.5,755.9 541.6,760.9 553.7,755.9 565.8,761.5"/><polyline points="582.4,775.6 594.5,761.5 606.5,765.6 618.6,760.0"/><polyline points="635.2,766.0 647.3,757.3 659.4,759.4 671.5,767.3"/></g>
<g fill="none" stroke="#0000ff" stroke-width="1.5" stroke-linejoin="round"><polyline points="318.0,356.3 330.1,361.5 342.1,349.1 354.2,361.1"/><polyline points="370.8,359.4 382.9,361.9 395.0,367.3 407.1,369.4"/><polyline points="423.7,356.7 435.8,362.5 447.9,356.7 460.0,366.2"/><polyline points="476.6,353.2 488.7,356.3 500.8,356.3 512.9,359.8"/><polyline points="529.5,358.4 541.6,363.1 553.7,363.6 565.8,364.0"/><polyline points="582.4,357.3 594.5,363.6 606.5,362.1 618.6,366.7"/><polyline points="635.2,362.1 647.3,364.6 659.4,366.7 671.5,367.3"/><polyline points="688.1,353.6 700.2,358.8 712.3,360.4 724.4,364.0"/><polyline points="741.0,347.0 753.1,353.2 765.2,347.0 777.3,357.3"/><polyline points="318.0,398.8 330.1,407.5 342.1,409.6 354.2,412.1"/><polyline points="370.8,406.5 382.9,404.8 395.0,406.5 407.1,411.7"/><polyline points="423.7,405.0 435.8,411.7 447.9,409.6 460.0,416.2"/><polyline points="476.6,414.1 488.7,414.8 500.8,417.5 512.9,417.5"/><polyline points="529.5,398.6 541.6,405.4 553.7,412.7 565.8,417.5"/><polyline points="582.4,403.4 594.5,411.0 606.5,406.5 618.6,416.2"/><polyline points="635.2,411.7 647.3,416.2 659.4,418.9 671.5,419.5"/><polyline points="688.1,414.8 700.2,417.5 712.3,420.6 724.4,418.9"/><polyline points="741.0,409.0 753.1,406.9 765.2,412.1 777.3,412.1"/><polyline points="318.0,457.3 330.1,459.3 342.1,453.3 354.2,467.2"/><polyline points="370.8,468.2 382.9,472.0 395.0,471.3 407.1,472.0"/><polyline points="423.7,464.7 435.8,466.8 447.9,471.3 460.0,470.3"/><polyline points="476.6,460.6 488.7,466.8 500.8,468.9 512.9,471.3"/><polyline points="529.5,460.6 541.6,462.4 553.7,474.0 565.8,469.3"/><polyline points="582.4,455.2 594.5,463.5 606.5,459.3 618.6,467.2"/><polyline points="635.2,462.7 647.3,467.2 659.4,469.3 671.5,471.3"/><polyline points="688.1,457.5 700.2,462.4 712.3,457.9 724.4,464.1"/><polyline points="741.0,458.5 753.1,461.6 765.2,460.6 777.3,465.1"/><polyline points="318.0,518.8 330.1,520.5 342.1,519.0 354.2,520.5"/><polyline points="370.8,512.2 382.9,517.8 395.0,520.9 407.1,519.9"/><polyline points="423.7,513.7 435.8,515.3 447.9,520.9 460.0,521.9"/><polyline points="476.6,509.7 488.7,514.7 500.8,510.1 512.9,518.8"/><polyline points="529.5,509.1 541.6,512.2 553.7,515.9 565.8,516.8"/><polyline points="582.4,506.6 594.5,506.6 606.5,509.1 618.6,510.1"/><polyline points="635.2,510.8 647.3,515.7 659.4,516.8 671.5,519.4"/><polyline points="688.1,513.7 700.2,516.8 712.3,521.9 724.4,519.0"/><polyline points="741.0,513.9 753.1,519.9 765.2,514.9 777.3,519.4"/><polyline points="318.0,564.0 330.1,562.0 342.1,568.0 354.2,568.0"/><polyline points="370.8,563.4 382.9,569.0 395.0,566.5 407.1,573.8"/><polyline points="423.7,556.8 435.8,559.7 447.9,561.3 460.0,564.9"/><polyline points="476.6,567.1 488.7,571.3 500.8,564.0 512.9,575.2"/><polyline points="529.5,569.2 541.6,574.4 553.7,575.8 565.8,575.8"/><polyline points="582.4,569.6 594.5,569.0 606.5,573.8 618.6,577.9"/><polyline points="635.2,563.0 647.3,564.9 659.4,566.1 671.5,569.6"/><polyline points="688.1,560.9 700.2,568.0 712.3,571.7 724.4,573.8"/><polyline points="741.0,571.1 753.1,569.2 765.2,573.3 777.3,575.2"/><polyline points="318.0,618.3 330.1,622.5 342.1,614.4 354.2,620.4"/><polyline points="370.8,619.6 382.9,621.0 395.0,622.1 407.1,620.0"/><polyline points="423.7,614.2 435.8,619.0 447.9,622.7 460.0,624.1"/><polyline points="476.6,615.2 488.7,617.5 500.8,613.8 512.9,619.6"/><polyline points="529.5,607.0 541.6,612.1 553.7,617.3 565.8,619.4"/><polyline points="582.4,616.5 594.5,625.6 606.5,625.2 618.6,625.2"/><polyline points="635.2,620.0 647.3,621.0 659.4,628.3 671.5,627.2"/><polyline points="688.1,618.3 700.2,622.7 712.3,626.8 724.4,626.8"/><polyline points="741.0,613.4 753.1,615.4 765.2,616.9 777.3,622.5"/><polyline points="318.0,676.4 330.1,675.8 342.1,674.7 354.2,679.5"/><polyline points="370.8,670.8 382.9,673.7 395.0,680.5 407.1,678.4"/><polyline points="423.7,664.6 435.8,672.9 447.9,671.2 460.0,673.7"/><polyline points="476.6,666.0 488.7,672.2 500.8,669.7 512.9,674.3"/><polyline points="529.5,663.5 541.6,668.5 553.7,668.5 565.8,671.8"/><polyline points="582.4,672.6 594.5,678.9 606.5,678.9 618.6,679.9"/><polyline points="635.2,668.1 647.3,674.3 659.4,673.3 671.5,677.4"/><polyline points="688.1,668.1 700.2,677.0 712.3,679.1 724.4,679.5"/><polyline points="741.0,677.4 753.1,677.4 765.2,681.5 777.3,680.5"/><polyline points="318.0,723.6 330.1,727.8 342.1,724.3 354.2,725.3"/><polyline points="370.8,717.4 382.9,719.5 395.0,727.2 407.1,727.2"/><polyline points="423.7,719.5 435.8,721.2 447.9,721.6 460.0,723.2"/><polyline points="476.6,721.6 488.7,727.2 500.8,731.5 512.9,731.5"/><polyline points="529.5,726.3 541.6,730.9 553.7,735.0 565.8,733.0"/><polyline points="582.4,719.9 594.5,723.6 606.5,730.5 618.6,730.9"/><polyline points="635.2,719.5 647.3,722.6 659.4,722.6 671.5,725.7"/><polyline points="688.1,721.2 700.2,725.7 712.3,727.2 724.4,730.5"/><polyline points="741.0,719.5 753.1,728.4 765.2,723.6 777.3,729.4"/><polyline points="318.0,769.1 330.1,772.4 342.1,786.7 354.2,782.2"/><polyline points="370.8,768.7 382.9,773.3 395.0,772.4 407.1,769.1"/><polyline points="423.7,771.2 435.8,774.5 447.9,777.6 460.0,780.1"/><polyline points="476.6,770.8 488.7,774.5 500.8,782.2 512.9,784.9"/><polyline points="529.5,774.5 541.6,771.2 553.7,777.0 565.8,773.9"/><polyline points="582.4,776.4 594.5,780.7 606.5,785.9 618.6,781.8"/><polyline points="635.2,781.6 647.3,782.6 659.4,782.2 671.5,786.7"/></g>
<path d="M318.0 328.4V337.3M316.5 328.4H320.9M316.5 337.3H320.9M330.1 332.5V335.6M327.2 332.5H333.0M327.2 335.6H333.0M342.1 338.7V350.1M339.2 338.7H345.0M339.2 350.1H345.0M354.2 338.3V350.1M351.3 338.3H355.7M351.3 350.1H355.7M318.0 351.5V360.4M316.5 351.5H320.9M316.5 360.4H320.9M330.1 354.7V367.3M327.2 354.7H333.0M327.2 367.3H333.0M342.1 339.7V359.4M339.2 339.7H345.0M339.2 359.4H345.0M354.2 357.8V364.2M351.3 357.8H355.7M351.3 364.2H355.7M370.8 342.2V350.1M369.4 342.2H373.7M369.4 350.1H373.7M382.9 341.4V348.0M380.0 341.4H385.8M380.0 348.0H385.8M395.0 338.3V354.2M392.1 338.3H397.9M392.1 354.2H397.9M407.1 328.4V358.4M404.2 328.4H408.6M404.2 358.4H408.6M370.8 350.1V368.7M369.4 350.1H373.7M369.4 368.7H373.7M382.9 355.3V368.1M380.0 355.3H385.8M380.0 368.1H385.8M395.0 365.2V370.2M392.1 365.2H397.9M392.1 370.2H397.9M407.1 367.7V370.8M404.2 367.7H408.6M404.2 370.8H408.6M423.7 328.4V348.0M422.3 328.4H426.6M422.3 348.0H426.6M435.8 333.5V346.4M432.9 333.5H438.7M432.9 346.4H438.7M447.9 337.3V349.1M445.0 337.3H450.8M445.0 349.1H450.8M460.0 344.5V349.1M457.1 344.5H461.5M457.1 349.1H461.5M423.7 348.0V365.0M422.3 348.0H426.6M422.3 365.0H426.6M435.8 355.3V367.7M432.9 355.3H438.7M432.9 367.7H438.7M447.9 347.0V367.1M445.0 347.0H450.8M445.0 367.1H450.8M460.0 364.6V367.7M457.1 364.6H461.5M457.1 367.7H461.5M476.6 334.6V338.7M475.1 334.6H479.5M475.1 338.7H479.5M488.7 328.4V344.9M485.8 328.4H491.6M485.8 344.9H491.6M500.8 334.6V342.2M497.9 334.6H503.7M497.9 342.2H503.7M512.9 337.5V338.7M510.0 337.5H514.3M510.0 338.7H514.3M476.6 347.0V359.4M475.1 347.0H479.5M475.1 359.4H479.5M488.7 349.1V364.0M485.8 349.1H491.6M485.8 364.0H491.6M500.8 351.8V359.4M497.9 351.8H503.7M497.9 359.4H503.7M512.9 357.3V361.9M510.0 357.3H514.3M510.0 361.9H514.3M529.5 330.4V340.8M528.0 330.4H532.4M528.0 340.8H532.4M541.6 328.4V347.4M538.7 328.4H544.5M538.7 347.4H544.5M553.7 338.7V356.3M550.8 338.7H556.6M550.8 356.3H556.6M565.8 340.8V352.2M562.9 340.8H567.2M562.9 352.2H567.2M529.5 350.1V366.7M528.0 350.1H532.4M528.0 366.7H532.4M541.6 358.4V367.7M538.7 358.4H544.5M538.7 367.7H544.5M553.7 358.8V367.7M550.8 358.8H556.6M550.8 367.7H556.6M565.8 359.4V367.7M562.9 359.4H567.2M562.9 367.7H567.2M582.4 338.3V365.6M580.9 338.3H585.3M580.9 365.6H585.3M594.5 343.9V357.3M591.6 343.9H597.4M591.6 357.3H597.4M606.5 328.4V358.4M603.6 328.4H609.4M603.6 358.4H609.4M618.6 347.0V358.4M615.7 347.0H620.1M615.7 358.4H620.1M582.4 356.3V364.6M580.9 356.3H585.3M580.9 364.6H585.3M594.5 359.4V367.7M591.6 359.4H597.4M591.6 367.7H597.4M606.5 353.8V370.8M603.6 353.8H609.4M603.6 370.8H609.4M618.6 365.6V367.7M615.7 365.6H620.1M615.7 367.7H620.1M635.2 332.5V352.2M633.8 332.5H638.1M633.8 352.2H638.1M647.3 328.4V343.9M644.4 328.4H650.2M644.4 343.9H650.2M659.4 344.9V349.5M656.5 344.9H662.3M656.5 349.5H662.3M671.5 343.9V351.1M668.6 343.9H673.0M668.6 351.1H673.0M635.2 352.2V369.8M633.8 352.2H638.1M633.8 369.8H638.1M647.3 359.4V370.2M644.4 359.4H650.2M644.4 370.2H650.2M659.4 364.0V369.4M656.5 364.0H662.3M656.5 369.4H662.3M671.5 365.6V369.1M668.6 365.6H673.0M668.6 369.1H673.0M688.1 336.6V360.0M686.7 336.6H691.0M686.7 360.0H691.0M700.2 328.4V366.7M697.3 328.4H703.1M697.3 366.7H703.1M712.3 340.8V370.2M709.4 340.8H715.2M709.4 370.2H715.2M724.4 346.0V355.3M721.5 346.0H725.9M721.5 355.3H725.9M688.1 350.1V357.3M686.7 350.1H691.0M686.7 357.3H691.0M700.2 352.2V365.6M697.3 352.2H703.1M697.3 365.6H703.1M712.3 350.1V370.8M709.4 350.1H715.2M709.4 370.8H715.2M724.4 361.5V366.7M721.5 361.5H725.9M721.5 366.7H725.9M741.0 331.5V334.6M739.5 331.5H743.9M739.5 334.6H743.9M753.1 328.4V336.6M750.2 328.4H756.0M750.2 336.6H756.0M765.2 330.4V346.0M762.3 330.4H768.1M762.3 346.0H768.1M777.3 338.7V343.9M774.4 338.7H778.7M774.4 343.9H778.7M741.0 332.5V364.6M739.5 332.5H743.9M739.5 364.6H743.9M753.1 349.1V356.7M750.2 349.1H756.0M750.2 356.7H756.0M765.2 337.1V357.3M762.3 337.1H768.1M762.3 357.3H768.1M777.3 354.2V359.4M774.4 354.2H778.7M774.4 359.4H778.7M318.0 383.7V404.4M316.5 383.7H320.9M316.5 404.4H320.9M330.1 378.7V393.0M327.2 378.7H333.0M327.2 393.0H333.0M342.1 391.6V406.5M339.2 391.6H345.0M339.2 406.5H345.0M354.2 388.9V406.1M351.3 388.9H355.7M351.3 406.1H355.7M318.0 383.7V413.7M316.5 383.7H320.9M316.5 413.7H320.9M330.1 398.2V415.8M327.2 398.2H333.0M327.2 415.8H333.0M342.1 401.3V417.9M339.2 401.3H345.0M339.2 417.9H345.0M354.2 406.5V417.5M351.3 406.5H355.7M351.3 417.5H355.7M370.8 380.0V393.0M369.4 380.0H373.7M369.4 393.0H373.7M382.9 389.9V402.3M380.0 389.9H385.8M380.0 402.3H385.8M395.0 390.3V402.3M392.1 390.3H397.9M392.1 402.3H397.9M407.1 394.5V400.7M404.2 394.5H408.6M404.2 400.7H408.6M370.8 402.8V409.6M369.4 402.8H373.7M369.4 409.6H373.7M382.9 402.3V406.5M380.0 402.3H385.8M380.0 406.5H385.8M395.0 400.3V412.3M392.1 400.3H397.9M392.1 412.3H397.9M407.1 409.6V414.1M404.2 409.6H408.6M404.2 414.1H408.6M423.7 380.0V385.8M422.3 380.0H426.6M422.3 385.8H426.6M435.8 386.2V392.0M432.9 386.2H438.7M432.9 392.0H438.7M447.9 391.6V423.0M445.0 391.6H450.8M445.0 423.0H450.8M460.0 387.2V400.7M457.1 387.2H461.5M457.1 400.7H461.5M423.7 391.0V418.3M422.3 391.0H426.6M422.3 418.3H426.6M435.8 407.5V416.2M432.9 407.5H438.7M432.9 416.2H438.7M447.9 392.4V423.0M445.0 392.4H450.8M445.0 423.0H450.8M460.0 410.6V421.6M457.1 410.6H461.5M457.1 421.6H461.5M476.6 380.6V396.1M475.1 380.6H479.5M475.1 396.1H479.5M488.7 385.8V395.1M485.8 385.8H491.6M485.8 395.1H491.6M500.8 390.3V404.4M497.9 390.3H503.7M497.9 404.4H503.7M512.9 393.0V405.4M510.0 393.0H514.3M510.0 405.4H514.3M476.6 406.5V422.0M475.1 406.5H479.5M475.1 422.0H479.5M488.7 408.5V421.0M485.8 408.5H491.6M485.8 421.0H491.6M500.8 411.7V423.0M497.9 411.7H503.7M497.9 423.0H503.7M512.9 412.7V422.0M510.0 412.7H514.3M510.0 422.0H514.3M529.5 381.6V404.8M528.0 381.6H532.4M528.0 404.8H532.4M541.6 378.7V401.3M538.7 378.7H544.5M538.7 401.3H544.5M553.7 390.3V406.1M550.8 390.3H556.6M550.8 406.1H556.6M565.8 392.0V408.5M562.9 392.0H567.2M562.9 408.5H567.2M529.5 385.8V421.0M528.0 385.8H532.4M528.0 421.0H532.4M541.6 403.4V407.5M538.7 403.4H544.5M538.7 407.5H544.5M553.7 404.4V423.0M550.8 404.4H556.6M550.8 423.0H556.6M565.8 415.8V418.9M562.9 415.8H567.2M562.9 418.9H567.2M582.4 385.8V391.0M580.9 385.8H585.3M580.9 391.0H585.3M594.5 383.7V400.3M591.6 383.7H597.4M591.6 400.3H597.4M606.5 382.7V402.3M603.6 382.7H609.4M603.6 402.3H609.4M618.6 400.3V409.6M615.7 400.3H620.1M615.7 409.6H620.1M582.4 393.0V415.8M580.9 393.0H585.3M580.9 415.8H585.3M594.5 409.6V412.3M591.6 409.6H597.4M591.6 412.3H597.4M606.5 394.7V418.9M603.6 394.7H609.4M603.6 418.9H609.4M618.6 412.7V419.9M615.7 412.7H620.1M615.7 419.9H620.1M635.2 382.7V398.2M633.8 382.7H638.1M633.8 398.2H638.1M647.3 391.0V399.2M644.4 391.0H650.2M644.4 399.2H650.2M659.4 378.7V403.4M656.5 378.7H662.3M656.5 403.4H662.3M671.5 398.8V404.4M668.6 398.8H673.0M668.6 404.4H673.0M635.2 403.4V419.9M633.8 403.4H638.1M633.8 419.9H638.1M647.3 410.6V422.0M644.4 410.6H650.2M644.4 422.0H650.2M659.4 416.2V421.6M656.5 416.2H662.3M656.5 421.6H662.3M671.5 416.8V422.0M668.6 416.8H673.0M668.6 422.0H673.0M688.1 380.6V406.5M686.7 380.6H691.0M686.7 406.5H691.0M700.2 387.4V409.6M697.3 387.4H703.1M697.3 409.6H703.1M712.3 394.1V405.4M709.4 394.1H715.2M709.4 405.4H715.2M724.4 393.0V401.3M721.5 393.0H725.9M721.5 401.3H725.9M688.1 406.5V423.0M686.7 406.5H691.0M686.7 423.0H691.0M700.2 412.7V422.0M697.3 412.7H703.1M697.3 422.0H703.1M712.3 419.9V422.0M709.4 419.9H715.2M709.4 422.0H715.2M724.4 416.8V421.0M721.5 416.8H725.9M721.5 421.0H725.9M741.0 378.7V406.5M739.5 378.7H743.9M739.5 406.5H743.9M753.1 401.3V403.8M750.2 401.3H756.0M750.2 403.8H756.0M765.2 393.6V404.4M762.3 393.6H768.1M762.3 404.4H768.1M777.3 397.2V404.4M774.4 397.2H778.7M774.4 404.4H778.7M741.0 407.5V410.0M739.5 407.5H743.9M739.5 410.0H743.9M753.1 404.8V409.0M750.2 404.8H756.0M750.2 409.0H756.0M765.2 406.5V417.2M762.3 406.5H768.1M762.3 417.2H768.1M777.3 409.6V414.8M774.4 409.6H778.7M774.4 414.8H778.7M318.0 436.2V449.6M316.5 436.2H320.9M316.5 449.6H320.9M330.1 444.0V451.7M327.2 444.0H333.0M327.2 451.7H333.0M342.1 431.0V452.7M339.2 431.0H345.0M339.2 452.7H345.0M354.2 439.3V452.3M351.3 439.3H355.7M351.3 452.3H355.7M318.0 455.8V458.9M316.5 455.8H320.9M316.5 458.9H320.9M330.1 456.9V462.4M327.2 456.9H333.0M327.2 462.4H333.0M342.1 448.6V460.0M339.2 448.6H345.0M339.2 460.0H345.0M354.2 464.1V469.3M351.3 464.1H355.7M351.3 469.3H355.7M370.8 432.0V446.5M369.4 432.0H373.7M369.4 446.5H373.7M382.9 445.5V452.1M380.0 445.5H385.8M380.0 452.1H385.8M395.0 451.7V461.0M392.1 451.7H397.9M392.1 461.0H397.9M407.1 457.5V460.0M404.2 457.5H408.6M404.2 460.0H408.6M370.8 463.7V474.0M369.4 463.7H373.7M369.4 474.0H373.7M382.9 470.3V474.5M380.0 470.3H385.8M380.0 474.5H385.8M395.0 467.8V474.5M392.1 467.8H397.9M392.1 474.5H397.9M407.1 469.3V474.5M404.2 469.3H408.6M404.2 474.5H408.6M423.7 432.0V457.9M422.3 432.0H426.6M422.3 457.9H426.6M435.8 443.4V458.9M432.9 443.4H438.7M432.9 458.9H438.7M447.9 446.1V458.5M445.0 446.1H450.8M445.0 458.5H450.8M460.0 451.7V456.4M457.1 451.7H461.5M457.1 456.4H461.5M423.7 457.9V472.4M422.3 457.9H426.6M422.3 472.4H426.6M435.8 458.9V475.3M432.9 458.9H438.7M447.9 469.3V473.4M445.0 469.3H450.8M445.0 473.4H450.8M460.0 467.2V473.4M457.1 467.2H461.5M457.1 473.4H461.5M476.6 432.0V445.9M475.1 432.0H479.5M475.1 445.9H479.5M488.7 440.7V445.1M485.8 440.7H491.6M485.8 445.1H491.6M500.8 435.1V450.6M497.9 435.1H503.7M497.9 450.6H503.7M512.9 439.3V450.6M510.0 439.3H514.3M510.0 450.6H514.3M476.6 447.5V474.5M475.1 447.5H479.5M475.1 474.5H479.5M488.7 461.0V472.8M485.8 461.0H491.6M485.8 472.8H491.6M500.8 463.7V474.0M497.9 463.7H503.7M497.9 474.0H503.7M512.9 468.2V474.5M510.0 468.2H514.3M510.0 474.5H514.3M529.5 434.1V445.5M528.0 434.1H532.4M528.0 445.5H532.4M541.6 431.0V458.5M538.7 431.0H544.5M538.7 458.5H544.5M553.7 441.3V455.8M550.8 441.3H556.6M550.8 455.8H556.6M565.8 451.7V460.0M562.9 451.7H567.2M562.9 460.0H567.2M529.5 438.2V475.3M528.0 438.2H532.4M541.6 457.9V466.8M538.7 457.9H544.5M538.7 466.8H544.5M553.7 474.0V474.5M550.8 474.0H556.6M550.8 474.5H556.6M565.8 468.2V470.3M562.9 468.2H567.2M562.9 470.3H567.2M582.4 438.6V448.6M580.9 438.6H585.3M580.9 448.6H585.3M594.5 431.6V453.8M591.6 431.6H597.4M591.6 453.8H597.4M606.5 436.8V452.1M603.6 436.8H609.4M603.6 452.1H609.4M618.6 439.3V454.2M615.7 439.3H620.1M615.7 454.2H620.1M582.4 436.2V474.5M580.9 436.2H585.3M580.9 474.5H585.3M594.5 458.5V468.7M591.6 458.5H597.4M591.6 468.7H597.4M606.5 435.7V475.3M603.6 435.7H609.4M618.6 465.1V469.3M615.7 465.1H620.1M615.7 469.3H620.1M635.2 438.6V458.9M633.8 438.6H638.1M633.8 458.9H638.1M647.3 440.3V453.3M644.4 440.3H650.2M644.4 453.3H650.2M659.4 431.0V458.9M656.5 431.0H662.3M656.5 458.9H662.3M671.5 446.5V453.3M668.6 446.5H673.0M668.6 453.3H673.0M635.2 457.9V468.2M633.8 457.9H638.1M633.8 468.2H638.1M647.3 462.0V472.4M644.4 462.0H650.2M644.4 472.4H650.2M659.4 463.7V474.5M656.5 463.7H662.3M656.5 474.5H662.3M671.5 469.3V473.4M668.6 469.3H673.0M668.6 473.4H673.0M688.1 435.1V448.2M686.7 435.1H691.0M686.7 448.2H691.0M700.2 432.0V439.9M697.3 432.0H703.1M697.3 439.9H703.1M712.3 439.3V447.5M709.4 439.3H715.2M709.4 447.5H715.2M724.4 439.3V444.4M721.5 439.3H725.9M721.5 444.4H725.9M688.1 447.5V467.2M686.7 447.5H691.0M686.7 467.2H691.0M700.2 455.8V468.9M697.3 455.8H703.1M697.3 468.9H703.1M712.3 451.7V465.1M709.4 451.7H715.2M709.4 465.1H715.2M724.4 462.0V466.2M721.5 462.0H725.9M721.5 466.2H725.9M741.0 431.0V457.9M739.5 431.0H743.9M739.5 457.9H743.9M753.1 441.7V463.1M750.2 441.7H756.0M750.2 463.1H756.0M765.2 446.5V458.9M762.3 446.5H768.1M762.3 458.9H768.1M777.3 445.5V454.2M774.4 445.5H778.7M774.4 454.2H778.7M741.0 451.7V465.1M739.5 451.7H743.9M739.5 465.1H743.9M753.1 460.0V464.1M750.2 460.0H756.0M750.2 464.1H756.0M765.2 452.7V468.7M762.3 452.7H768.1M762.3 468.7H768.1M777.3 463.1V467.2M774.4 463.1H778.7M774.4 467.2H778.7M318.0 485.3V495.6M316.5 485.3H320.9M316.5 495.6H320.9M330.1 495.2V501.2M327.2 495.2H333.0M327.2 501.2H333.0M342.1 491.5V507.0M339.2 491.5H345.0M339.2 507.0H345.0M354.2 498.7V503.9M351.3 498.7H355.7M351.3 503.9H355.7M318.0 515.9V521.5M316.5 515.9H320.9M316.5 521.5H320.9M330.1 518.8V521.9M327.2 518.8H333.0M327.2 521.9H333.0M342.1 516.3V521.5M339.2 516.3H345.0M339.2 521.5H345.0M354.2 517.4V523.6M351.3 517.4H355.7M351.3 523.6H355.7M370.8 485.3V499.8M369.4 485.3H373.7M369.4 499.8H373.7M382.9 486.3V504.5M380.0 486.3H385.8M380.0 504.5H385.8M395.0 496.7V507.0M392.1 496.7H397.9M392.1 507.0H397.9M407.1 495.6V502.9M404.2 495.6H408.6M404.2 502.9H408.6M370.8 501.9V523.6M369.4 501.9H373.7M369.4 523.6H373.7M382.9 510.1V525.7M380.0 510.1H385.8M380.0 525.7H385.8M395.0 516.3V524.6M392.1 516.3H397.9M392.1 524.6H397.9M407.1 511.2V526.7M404.2 511.2H408.6M404.2 526.7H408.6M423.7 490.5V506.0M422.3 490.5H426.6M422.3 506.0H426.6M435.8 485.3V504.5M432.9 485.3H438.7M432.9 504.5H438.7M447.9 491.5V506.6M445.0 491.5H450.8M445.0 506.6H450.8M460.0 499.8V508.1M457.1 499.8H461.5M457.1 508.1H461.5M423.7 506.0V521.5M422.3 506.0H426.6M422.3 521.5H426.6M435.8 508.1V521.5M432.9 508.1H438.7M432.9 521.5H438.7M447.9 517.4V523.6M445.0 517.4H450.8M445.0 523.6H450.8M460.0 519.4V523.6M457.1 519.4H461.5M457.1 523.6H461.5M476.6 485.3V492.5M475.1 485.3H479.5M475.1 492.5H479.5M488.7 491.5V505.4M485.8 491.5H491.6M485.8 505.4H491.6M500.8 492.5V505.0M497.9 492.5H503.7M497.9 505.0H503.7M512.9 501.9V506.0M510.0 501.9H514.3M510.0 506.0H514.3M476.6 496.7V522.6M475.1 496.7H479.5M475.1 522.6H479.5M488.7 511.8V517.4M485.8 511.8H491.6M485.8 517.4H491.6M500.8 500.8V519.4M497.9 500.8H503.7M497.9 519.4H503.7M512.9 514.3V522.6M510.0 514.3H514.3M510.0 522.6H514.3M529.5 486.3V497.7M528.0 486.3H532.4M528.0 497.7H532.4M541.6 485.3V501.2M538.7 485.3H544.5M538.7 501.2H544.5M553.7 491.5V495.6M550.8 491.5H556.6M550.8 495.6H556.6M565.8 495.2V497.3M562.9 495.2H567.2M562.9 497.3H567.2M529.5 501.9V515.7M528.0 501.9H532.4M528.0 515.7H532.4M541.6 507.4V517.4M538.7 507.4H544.5M538.7 517.4H544.5M553.7 510.8V520.5M550.8 510.8H556.6M550.8 520.5H556.6M565.8 512.8V520.9M562.9 512.8H567.2M562.9 520.9H567.2M582.4 486.3V498.7M580.9 486.3H585.3M580.9 498.7H585.3M594.5 485.3V498.7M591.6 485.3H597.4M591.6 498.7H597.4M606.5 485.9V498.3M603.6 485.9H609.4M603.6 498.3H609.4M618.6 490.5V497.7M615.7 490.5H620.1M615.7 497.7H620.1M582.4 499.8V513.2M580.9 499.8H585.3M580.9 513.2H585.3M594.5 503.5V510.1M591.6 503.5H597.4M591.6 510.1H597.4M606.5 507.0V511.2M603.6 507.0H609.4M603.6 511.2H609.4M618.6 508.5V511.8M615.7 508.5H620.1M615.7 511.8H620.1M635.2 485.3V499.8M633.8 485.3H638.1M633.8 499.8H638.1M647.3 494.6V498.7M644.4 494.6H650.2M644.4 498.7H650.2M659.4 486.3V511.2M656.5 486.3H662.3M656.5 511.2H662.3M671.5 503.9V506.0M668.6 503.9H673.0M668.6 506.0H673.0M635.2 499.8V522.6M633.8 499.8H638.1M633.8 522.6H638.1M647.3 510.8V520.5M644.4 510.8H650.2M644.4 520.5H650.2M659.4 510.1V522.6M656.5 510.1H662.3M656.5 522.6H662.3M671.5 518.0V520.9M668.6 518.0H673.0M668.6 520.9H673.0M688.1 492.5V508.1M686.7 492.5H691.0M686.7 508.1H691.0M700.2 485.3V508.1M697.3 485.3H703.1M697.3 508.1H703.1M712.3 498.7V506.0M709.4 498.7H715.2M709.4 506.0H715.2M724.4 488.4V499.8M721.5 488.4H725.9M721.5 499.8H725.9M688.1 505.0V522.6M686.7 505.0H691.0M686.7 522.6H691.0M700.2 509.1V524.6M697.3 509.1H703.1M697.3 524.6H703.1M712.3 515.9V527.5M709.4 515.9H715.2M724.4 509.1V527.5M721.5 509.1H725.9M741.0 486.3V507.0M739.5 486.3H743.9M739.5 507.0H743.9M753.1 501.4V505.4M750.2 501.4H756.0M750.2 505.4H756.0M765.2 499.4V510.1M762.3 499.4H768.1M762.3 510.1H768.1M777.3 507.0V510.8M774.4 507.0H778.7M774.4 510.8H778.7M741.0 507.0V520.5M739.5 507.0H743.9M739.5 520.5H743.9M753.1 517.0V521.9M750.2 517.0H756.0M750.2 521.9H756.0M765.2 507.0V522.6M762.3 507.0H768.1M762.3 522.6H768.1M777.3 516.3V522.1M774.4 516.3H778.7M774.4 522.1H778.7M318.0 539.6V557.2M316.5 539.6H320.9M316.5 557.2H320.9M330.1 537.5V547.9M327.2 537.5H333.0M327.2 547.9H333.0M342.1 543.3V560.3M339.2 543.3H345.0M339.2 560.3H345.0M354.2 543.7V556.2M351.3 543.7H355.7M351.3 556.2H355.7M318.0 557.2V569.6M316.5 557.2H320.9M316.5 569.6H320.9M330.1 556.8V566.5M327.2 556.8H333.0M327.2 566.5H333.0M342.1 566.5V570.0M339.2 566.5H345.0M339.2 570.0H345.0M354.2 564.4V570.7M351.3 564.4H355.7M351.3 570.7H355.7M370.8 537.5V546.8M369.4 537.5H373.7M369.4 546.8H373.7M382.9 536.5V550.6M380.0 536.5H385.8M380.0 550.6H385.8M395.0 550.0V558.9M392.1 550.0H397.9M392.1 558.9H397.9M407.1 549.3V557.8M404.2 549.3H408.6M404.2 557.8H408.6M370.8 553.1V573.1M369.4 553.1H373.7M369.4 573.1H373.7M382.9 563.4V574.8M380.0 563.4H385.8M380.0 574.8H385.8M395.0 556.2V576.4M392.1 556.2H397.9M392.1 576.4H397.9M407.1 570.7V575.8M404.2 570.7H408.6M404.2 575.8H408.6M423.7 536.5V549.5M422.3 536.5H426.6M422.3 549.5H426.6M435.8 543.3V557.8M432.9 543.3H438.7M432.9 557.8H438.7M447.9 544.8V556.8M445.0 544.8H450.8M445.0 556.8H450.8M460.0 545.4V557.2M457.1 545.4H461.5M457.1 557.2H461.5M423.7 554.1V560.3M422.3 554.1H426.6M422.3 560.3H426.6M435.8 558.2V560.7M432.9 558.2H438.7M432.9 560.7H438.7M447.9 550.0V573.1M445.0 550.0H450.8M445.0 573.1H450.8M460.0 562.4V566.5M457.1 562.4H461.5M457.1 566.5H461.5M476.6 539.6V565.9M475.1 539.6H479.5M475.1 565.9H479.5M488.7 543.7V567.5M485.8 543.7H491.6M485.8 567.5H491.6M500.8 544.8V570.7M497.9 544.8H503.7M497.9 570.7H503.7M512.9 545.8V556.2M510.0 545.8H514.3M510.0 556.2H514.3M476.6 560.3V573.8M475.1 560.3H479.5M475.1 573.8H479.5M488.7 568.0V573.8M485.8 568.0H491.6M485.8 573.8H491.6M500.8 537.5V579.8M497.9 537.5H503.7M512.9 573.8V576.9M510.0 573.8H514.3M510.0 576.9H514.3M529.5 536.5V562.4M528.0 536.5H532.4M528.0 562.4H532.4M541.6 549.3V554.7M538.7 549.3H544.5M538.7 554.7H544.5M553.7 550.6V568.0M550.8 550.6H556.6M550.8 568.0H556.6M565.8 557.2V566.5M562.9 557.2H567.2M562.9 566.5H567.2M529.5 563.4V575.2M528.0 563.4H532.4M528.0 575.2H532.4M541.6 569.6V578.9M538.7 569.6H544.5M538.7 578.9H544.5M553.7 572.3V579.3M550.8 572.3H556.6M550.8 579.3H556.6M565.8 572.7V578.9M562.9 572.7H567.2M562.9 578.9H567.2M582.4 537.5V544.8M580.9 537.5H585.3M580.9 544.8H585.3M594.5 537.5V562.0M591.6 537.5H597.4M591.6 562.0H597.4M606.5 544.8V558.2M603.6 544.8H609.4M603.6 558.2H609.4M618.6 546.4V560.9M615.7 546.4H620.1M615.7 560.9H620.1M582.4 563.4V575.8M580.9 563.4H585.3M580.9 575.8H585.3M594.5 563.4V573.8M591.6 563.4H597.4M591.6 573.8H597.4M606.5 565.5V579.8M603.6 565.5H609.4M618.6 575.8V579.8M615.7 575.8H620.1M635.2 538.6V551.0M633.8 538.6H638.1M633.8 551.0H638.1M647.3 544.8V551.0M644.4 544.8H650.2M644.4 551.0H650.2M659.4 549.5V557.8M656.5 549.5H662.3M656.5 557.8H662.3M671.5 553.1V556.2M668.6 553.1H673.0M668.6 556.2H673.0M635.2 554.1V571.7M633.8 554.1H638.1M633.8 571.7H638.1M647.3 562.4V567.1M644.4 562.4H650.2M644.4 567.1H650.2M659.4 562.0V570.2M656.5 562.0H662.3M656.5 570.2H662.3M671.5 566.5V572.7M668.6 566.5H673.0M668.6 572.7H673.0M688.1 542.7V547.9M686.7 542.7H691.0M686.7 547.9H691.0M700.2 540.6V544.8M697.3 540.6H703.1M697.3 544.8H703.1M712.3 537.5V556.2M709.4 537.5H715.2M709.4 556.2H715.2M724.4 553.1V558.2M721.5 553.1H725.9M721.5 558.2H725.9M688.1 536.5V579.8M686.7 536.5H691.0M700.2 558.9V577.5M697.3 558.9H703.1M697.3 577.5H703.1M712.3 564.4V578.9M709.4 564.4H715.2M709.4 578.9H715.2M724.4 571.7V575.8M721.5 571.7H725.9M721.5 575.8H725.9M741.0 536.5V551.0M739.5 536.5H743.9M739.5 551.0H743.9M753.1 540.2V560.3M750.2 540.2H756.0M750.2 560.3H756.0M765.2 545.2V559.3M762.3 545.2H768.1M762.3 559.3H768.1M777.3 556.2V562.4M774.4 556.2H778.7M774.4 562.4H778.7M741.0 566.5V575.8M739.5 566.5H743.9M739.5 575.8H743.9M753.1 563.4V574.4M750.2 563.4H756.0M750.2 574.4H756.0M765.2 566.5V579.8M762.3 566.5H768.1M777.3 572.7V577.3M774.4 572.7H778.7M774.4 577.3H778.7M318.0 591.6V605.5M316.5 591.6H320.9M316.5 605.5H320.9M330.1 594.1V609.6M327.2 594.1H333.0M327.2 609.6H333.0M342.1 588.9V613.8M339.2 588.9H345.0M339.2 613.8H345.0M354.2 601.4V607.6M351.3 601.4H355.7M351.3 607.6H355.7M318.0 614.8V621.0M316.5 614.8H320.9M316.5 621.0H320.9M330.1 615.4V628.7M327.2 615.4H333.0M327.2 628.7H333.0M342.1 605.5V622.7M339.2 605.5H345.0M339.2 622.7H345.0M354.2 619.4V621.0M351.3 619.4H355.7M351.3 621.0H355.7M370.8 591.6V606.5M369.4 591.6H373.7M369.4 606.5H373.7M382.9 593.7V601.4M380.0 593.7H385.8M380.0 601.4H385.8M395.0 604.5V608.6M392.1 604.5H397.9M392.1 608.6H397.9M407.1 588.9V602.0M404.2 588.9H408.6M404.2 602.0H408.6M370.8 616.9V622.7M369.4 616.9H373.7M369.4 622.7H373.7M382.9 615.4V626.2M380.0 615.4H385.8M380.0 626.2H385.8M395.0 613.8V631.4M392.1 613.8H397.9M392.1 631.4H397.9M407.1 614.8V625.8M404.2 614.8H408.6M404.2 625.8H408.6M423.7 588.9V602.8M422.3 588.9H426.6M422.3 602.8H426.6M435.8 590.6V608.6M432.9 590.6H438.7M432.9 608.6H438.7M447.9 599.3V612.1M445.0 599.3H450.8M445.0 612.1H450.8M460.0 604.1V610.3M457.1 604.1H461.5M457.1 610.3H461.5M423.7 602.4V625.2M422.3 602.4H426.6M422.3 625.2H426.6M435.8 608.6V629.3M432.9 608.6H438.7M432.9 629.3H438.7M447.9 615.4V630.3M445.0 615.4H450.8M445.0 630.3H450.8M460.0 620.0V628.3M457.1 620.0H461.5M457.1 628.3H461.5M476.6 590.0V620.0M475.1 590.0H479.5M475.1 620.0H479.5M488.7 600.7V610.7M485.8 600.7H491.6M485.8 610.7H491.6M500.8 599.3V616.9M497.9 599.3H503.7M497.9 616.9H503.7M512.9 601.4V610.3M510.0 601.4H514.3M510.0 610.3H514.3M476.6 612.7V617.9M475.1 612.7H479.5M475.1 617.9H479.5M488.7 607.6V627.2M485.8 607.6H491.6M485.8 627.2H491.6M500.8 608.6V619.4M497.9 608.6H503.7M497.9 619.4H503.7M512.9 616.9V622.5M510.0 616.9H514.3M510.0 622.5H514.3M529.5 599.9V608.6M528.0 599.9H532.4M528.0 608.6H532.4M541.6 588.9V610.1M538.7 588.9H544.5M538.7 610.1H544.5M553.7 602.8V607.0M550.8 602.8H556.6M550.8 607.0H556.6M565.8 605.5V610.7M562.9 605.5H567.2M562.9 610.7H567.2M529.5 600.3V613.4M528.0 600.3H532.4M528.0 613.4H532.4M541.6 608.2V616.9M538.7 608.2H544.5M538.7 616.9H544.5M553.7 613.4V621.0M550.8 613.4H556.6M550.8 621.0H556.6M565.8 617.5V621.0M562.9 617.5H567.2M562.9 621.0H567.2M582.4 593.7V621.0M580.9 593.7H585.3M580.9 621.0H585.3M594.5 599.3V611.1M591.6 599.3H597.4M591.6 611.1H597.4M606.5 588.9V616.3M603.6 588.9H609.4M603.6 616.3H609.4M618.6 612.7V619.0M615.7 612.7H620.1M615.7 619.0H620.1M582.4 615.9V625.2M580.9 615.9H585.3M580.9 625.2H585.3M594.5 620.0V631.4M591.6 620.0H597.4M591.6 631.4H597.4M606.5 620.6V628.3M603.6 620.6H609.4M603.6 628.3H609.4M618.6 620.0V630.3M615.7 620.0H620.1M615.7 630.3H620.1M635.2 590.0V604.5M633.8 590.0H638.1M633.8 604.5H638.1M647.3 590.6V619.4M644.4 590.6H650.2M644.4 619.4H650.2M659.4 593.7V605.5M656.5 593.7H662.3M656.5 605.5H662.3M671.5 603.4V616.9M668.6 603.4H673.0M668.6 616.9H673.0M635.2 613.8V626.2M633.8 613.8H638.1M633.8 626.2H638.1M647.3 613.8V628.3M644.4 613.8H650.2M644.4 628.3H650.2M659.4 625.6V631.0M656.5 625.6H662.3M656.5 631.0H662.3M671.5 625.2V630.3M668.6 625.2H673.0M668.6 630.3H673.0M688.1 588.9V598.3M686.7 588.9H691.0M686.7 598.3H691.0M700.2 594.1V603.4M697.3 594.1H703.1M697.3 603.4H703.1M712.3 600.7V606.5M709.4 600.7H715.2M709.4 606.5H715.2M724.4 598.3V608.6M721.5 598.3H725.9M721.5 608.6H725.9M688.1 607.6V628.3M686.7 607.6H691.0M686.7 628.3H691.0M700.2 615.4V629.3M697.3 615.4H703.1M697.3 629.3H703.1M712.3 623.7V630.3M709.4 623.7H715.2M709.4 630.3H715.2M724.4 625.2V628.7M721.5 625.2H725.9M721.5 628.7H725.9M741.0 594.1V613.8M739.5 594.1H743.9M739.5 613.8H743.9M753.1 602.4V612.1M750.2 602.4H756.0M750.2 612.1H756.0M765.2 588.9V611.7M762.3 588.9H768.1M762.3 611.7H768.1M777.3 604.5V617.9M774.4 604.5H778.7M774.4 617.9H778.7M741.0 612.7V614.8M739.5 612.7H743.9M739.5 614.8H743.9M753.1 610.3V620.4M750.2 610.3H756.0M750.2 620.4H756.0M765.2 613.8V619.4M762.3 613.8H768.1M762.3 619.4H768.1M777.3 621.0V624.1M774.4 621.0H778.7M774.4 624.1H778.7M318.0 648.4V661.9M316.5 648.4H320.9M316.5 661.9H320.9M330.1 656.7V661.5M327.2 656.7H333.0M327.2 661.5H333.0M342.1 641.2V667.1M339.2 641.2H345.0M339.2 667.1H345.0M354.2 661.9V665.6M351.3 661.9H355.7M351.3 665.6H355.7M318.0 671.2V681.5M316.5 671.2H320.9M316.5 681.5H320.9M330.1 668.5V681.5M327.2 668.5H333.0M327.2 681.5H333.0M342.1 666.6V684.2M339.2 666.6H345.0M339.2 684.2H345.0M354.2 678.4V680.5M351.3 678.4H355.7M351.3 680.5H355.7M370.8 642.2V652.6M369.4 642.2H373.7M369.4 652.6H373.7M382.9 645.9V660.4M380.0 645.9H385.8M380.0 660.4H385.8M395.0 649.5V670.2M392.1 649.5H397.9M392.1 670.2H397.9M407.1 655.3V666.6M404.2 655.3H408.6M404.2 666.6H408.6M370.8 660.8V681.5M369.4 660.8H373.7M369.4 681.5H373.7M382.9 667.1V680.1M380.0 667.1H385.8M380.0 680.1H385.8M395.0 678.4V682.6M392.1 678.4H397.9M392.1 682.6H397.9M407.1 674.3V682.6M404.2 674.3H408.6M404.2 682.6H408.6M423.7 642.2V653.6M422.3 642.2H426.6M422.3 653.6H426.6M435.8 644.3V665.4M432.9 644.3H438.7M432.9 665.4H438.7M447.9 658.4V666.6M445.0 658.4H450.8M445.0 666.6H450.8M460.0 654.2V665.4M457.1 654.2H461.5M457.1 665.4H461.5M423.7 661.9V667.1M422.3 661.9H426.6M422.3 667.1H426.6M435.8 665.4V680.1M432.9 665.4H438.7M432.9 680.1H438.7M447.9 663.5V679.5M445.0 663.5H450.8M445.0 679.5H450.8M460.0 672.2V675.3M457.1 672.2H461.5M457.1 675.3H461.5M476.6 642.2V667.1M475.1 642.2H479.5M475.1 667.1H479.5M488.7 651.5V671.2M485.8 651.5H491.6M485.8 671.2H491.6M500.8 653.6V658.8M497.9 653.6H503.7M497.9 658.8H503.7M512.9 654.6V661.9M510.0 654.6H514.3M510.0 661.9H514.3M476.6 654.6V675.3M475.1 654.6H479.5M475.1 675.3H479.5M488.7 667.1V677.4M485.8 667.1H491.6M485.8 677.4H491.6M500.8 662.3V677.0M497.9 662.3H503.7M497.9 677.0H503.7M512.9 672.2V676.4M510.0 672.2H514.3M510.0 676.4H514.3M529.5 641.2V647.4M528.0 641.2H532.4M528.0 647.4H532.4M541.6 648.4V650.5M538.7 648.4H544.5M538.7 650.5H544.5M553.7 642.2V655.3M550.8 642.2H556.6M550.8 655.3H556.6M565.8 649.5V655.7M562.9 649.5H567.2M562.9 655.7H567.2M529.5 653.6V673.3M528.0 653.6H532.4M528.0 673.3H532.4M541.6 664.6V672.6M538.7 664.6H544.5M538.7 672.6H544.5M553.7 666.6V669.7M550.8 666.6H556.6M550.8 669.7H556.6M565.8 668.1V674.3M562.9 668.1H567.2M562.9 674.3H567.2M582.4 642.2V657.7M580.9 642.2H585.3M580.9 657.7H585.3M594.5 647.4V660.4M591.6 647.4H597.4M591.6 660.4H597.4M606.5 657.7V664.0M603.6 657.7H609.4M603.6 664.0H609.4M618.6 655.7V665.4M615.7 655.7H620.1M615.7 665.4H620.1M582.4 664.0V681.5M580.9 664.0H585.3M580.9 681.5H585.3M594.5 674.3V682.6M591.6 674.3H597.4M591.6 682.6H597.4M606.5 672.6V684.2M603.6 672.6H609.4M618.6 676.4V683.2M615.7 676.4H620.1M615.7 683.2H620.1M635.2 642.2V658.8M633.8 642.2H638.1M633.8 658.8H638.1M647.3 641.2V654.6M644.4 641.2H650.2M644.4 654.6H650.2M659.4 655.3V662.9M656.5 655.3H662.3M656.5 662.9H662.3M671.5 657.1V660.8M668.6 657.1H673.0M668.6 660.8H673.0M635.2 658.8V677.4M633.8 658.8H638.1M633.8 677.4H638.1M647.3 667.7V681.1M644.4 667.7H650.2M644.4 681.1H650.2M659.4 664.0V682.6M656.5 664.0H662.3M656.5 682.6H662.3M671.5 675.3V679.1M668.6 675.3H673.0M668.6 679.1H673.0M688.1 649.5V659.8M686.7 649.5H691.0M686.7 659.8H691.0M700.2 650.5V660.8M697.3 650.5H703.1M697.3 660.8H703.1M712.3 641.2V666.6M709.4 641.2H715.2M709.4 666.6H715.2M724.4 649.9V658.8M721.5 649.9H725.9M721.5 658.8H725.9M688.1 656.7V680.1M686.7 656.7H691.0M686.7 680.1H691.0M700.2 669.1V684.2M697.3 669.1H703.1M697.3 684.2H703.1M712.3 673.3V684.2M709.4 673.3H715.2M724.4 675.8V683.2M721.5 675.8H725.9M721.5 683.2H725.9M741.0 642.2V673.3M739.5 642.2H743.9M739.5 673.3H743.9M753.1 660.8V678.4M750.2 660.8H756.0M750.2 678.4H756.0M765.2 650.5V666.6M762.3 650.5H768.1M762.3 666.6H768.1M777.3 660.8V672.2M774.4 660.8H778.7M774.4 672.2H778.7M741.0 672.2V682.6M739.5 672.2H743.9M739.5 682.6H743.9M753.1 671.2V683.6M750.2 671.2H756.0M750.2 683.6H756.0M765.2 679.9V683.2M762.3 679.9H768.1M762.3 683.2H768.1M777.3 678.4V682.6M774.4 678.4H778.7M774.4 682.6H778.7M318.0 707.7V718.1M316.5 707.7H320.9M316.5 718.1H320.9M330.1 694.0V707.7M327.2 694.0H333.0M327.2 707.7H333.0M342.1 704.4V714.3M339.2 704.4H345.0M339.2 714.3H345.0M354.2 708.1V719.5M351.3 708.1H355.7M351.3 719.5H355.7M318.0 717.4V729.2M316.5 717.4H320.9M316.5 729.2H320.9M330.1 720.5V734.6M327.2 720.5H333.0M327.2 734.6H333.0M342.1 720.5V727.4M339.2 720.5H345.0M339.2 727.4H345.0M354.2 721.6V728.8M351.3 721.6H355.7M351.3 728.8H355.7M370.8 693.6V710.2M369.4 693.6H373.7M369.4 710.2H373.7M382.9 695.7V715.4M380.0 695.7H385.8M380.0 715.4H385.8M395.0 705.6V712.3M392.1 705.6H397.9M392.1 712.3H397.9M407.1 705.0V716.4M404.2 705.0H408.6M404.2 716.4H408.6M370.8 707.1V728.8M369.4 707.1H373.7M369.4 728.8H373.7M382.9 711.8V727.2M380.0 711.8H385.8M380.0 727.2H385.8M395.0 721.6V733.0M392.1 721.6H397.9M392.1 733.0H397.9M407.1 723.6V730.9M404.2 723.6H408.6M404.2 730.9H408.6M423.7 696.1V716.4M422.3 696.1H426.6M422.3 716.4H426.6M435.8 694.7V710.2M432.9 694.7H438.7M432.9 710.2H438.7M447.9 703.4V717.0M445.0 703.4H450.8M445.0 717.0H450.8M460.0 706.0V708.7M457.1 706.0H461.5M457.1 708.7H461.5M423.7 710.8V728.8M422.3 710.8H426.6M422.3 728.8H426.6M435.8 715.4V727.2M432.9 715.4H438.7M432.9 727.2H438.7M447.9 712.3V730.9M445.0 712.3H450.8M445.0 730.9H450.8M460.0 714.3V732.3M457.1 714.3H461.5M457.1 732.3H461.5M476.6 693.6V707.7M475.1 693.6H479.5M475.1 707.7H479.5M488.7 696.1V710.2M485.8 696.1H491.6M485.8 710.2H491.6M500.8 694.7V713.9M497.9 694.7H503.7M497.9 713.9H503.7M512.9 709.2V717.4M510.0 709.2H514.3M510.0 717.4H514.3M476.6 709.2V734.0M475.1 709.2H479.5M475.1 734.0H479.5M488.7 719.5V735.0M485.8 719.5H491.6M485.8 735.0H491.6M500.8 727.8V735.0M497.9 727.8H503.7M497.9 735.0H503.7M512.9 728.8V734.0M510.0 728.8H514.3M510.0 734.0H514.3M529.5 694.0V700.9M528.0 694.0H532.4M528.0 700.9H532.4M541.6 708.1V716.4M538.7 708.1H544.5M538.7 716.4H544.5M553.7 707.5V720.1M550.8 707.5H556.6M550.8 720.1H556.6M565.8 707.7V717.4M562.9 707.7H567.2M562.9 717.4H567.2M529.5 718.5V734.0M528.0 718.5H532.4M528.0 734.0H532.4M541.6 726.8V735.0M538.7 726.8H544.5M538.7 735.0H544.5M553.7 734.0V736.1M550.8 734.0H556.6M550.8 736.1H556.6M565.8 730.9V735.0M562.9 730.9H567.2M562.9 735.0H567.2M582.4 699.8V705.4M580.9 699.8H585.3M580.9 705.4H585.3M594.5 695.7V733.0M591.6 695.7H597.4M591.6 733.0H597.4M606.5 694.7V716.4M603.6 694.7H609.4M603.6 716.4H609.4M618.6 699.8V715.0M615.7 699.8H620.1M615.7 715.0H620.1M582.4 705.6V734.0M580.9 705.6H585.3M580.9 734.0H585.3M594.5 714.7V733.0M591.6 714.7H597.4M591.6 733.0H597.4M606.5 726.3V734.6M603.6 726.3H609.4M603.6 734.6H609.4M618.6 726.3V735.0M615.7 726.3H620.1M615.7 735.0H620.1M635.2 701.9V711.2M633.8 701.9H638.1M633.8 711.2H638.1M647.3 693.6V713.3M644.4 693.6H650.2M644.4 713.3H650.2M659.4 703.4V717.8M656.5 703.4H662.3M656.5 717.8H662.3M671.5 708.1V712.9M668.6 708.1H673.0M668.6 712.9H673.0M635.2 710.2V730.9M633.8 710.2H638.1M633.8 730.9H638.1M647.3 720.5V723.6M644.4 720.5H650.2M644.4 723.6H650.2M659.4 704.0V736.5M656.5 704.0H662.3M656.5 736.5H662.3M671.5 719.5V731.9M668.6 719.5H673.0M668.6 731.9H673.0M688.1 696.1V710.2M686.7 696.1H691.0M686.7 710.2H691.0M700.2 693.6V713.3M697.3 693.6H703.1M697.3 713.3H703.1M712.3 703.4V714.3M709.4 703.4H715.2M709.4 714.3H715.2M724.4 708.1V718.5M721.5 708.1H725.9M721.5 718.5H725.9M688.1 713.3V728.8M686.7 713.3H691.0M686.7 728.8H691.0M700.2 719.5V733.0M697.3 719.5H703.1M697.3 733.0H703.1M712.3 719.5V736.5M709.4 719.5H715.2M709.4 736.5H715.2M724.4 727.8V732.3M721.5 727.8H725.9M721.5 732.3H725.9M741.0 710.2V716.4M739.5 710.2H743.9M739.5 716.4H743.9M753.1 709.2V718.1M750.2 709.2H756.0M750.2 718.1H756.0M765.2 692.2V724.7M762.3 692.2H768.1M762.3 724.7H768.1M777.3 710.8V718.1M774.4 710.8H778.7M774.4 718.1H778.7M741.0 710.2V728.8M739.5 710.2H743.9M739.5 728.8H743.9M753.1 723.6V733.6M750.2 723.6H756.0M750.2 733.6H756.0M765.2 713.3V733.6M762.3 713.3H768.1M762.3 733.6H768.1M777.3 725.7V733.0M774.4 725.7H778.7M774.4 733.0H778.7M318.0 747.0V763.5M316.5 747.0H320.9M316.5 763.5H320.9M330.1 749.7V766.7M327.2 749.7H333.0M327.2 766.7H333.0M342.1 767.7V774.5M339.2 767.7H345.0M339.2 774.5H345.0M354.2 759.4V771.8M351.3 759.4H355.7M351.3 771.8H355.7M318.0 764.2V774.9M316.5 764.2H320.9M316.5 774.9H320.9M330.1 765.6V779.1M327.2 765.6H333.0M327.2 779.1H333.0M342.1 785.3V788.4M339.2 785.3H345.0M339.2 788.4H345.0M354.2 774.9V788.7M351.3 774.9H355.7M370.8 746.6V761.5M369.4 746.6H373.7M369.4 761.5H373.7M382.9 746.0V761.5M380.0 746.0H385.8M380.0 761.5H385.8M395.0 751.1V761.1M392.1 751.1H397.9M392.1 761.1H397.9M407.1 746.0V757.3M404.2 746.0H408.6M404.2 757.3H408.6M370.8 761.5V776.0M369.4 761.5H373.7M369.4 776.0H373.7M382.9 767.7V779.1M380.0 767.7H385.8M380.0 779.1H385.8M395.0 760.4V784.7M392.1 760.4H397.9M392.1 784.7H397.9M407.1 762.5V776.0M404.2 762.5H408.6M404.2 776.0H408.6M423.7 746.0V765.2M422.3 746.0H426.6M422.3 765.2H426.6M435.8 750.5V764.6M432.9 750.5H438.7M432.9 764.6H438.7M447.9 754.6V764.2M445.0 754.6H450.8M445.0 764.2H450.8M460.0 755.3V770.8M457.1 755.3H461.5M457.1 770.8H461.5M423.7 759.4V783.2M422.3 759.4H426.6M422.3 783.2H426.6M435.8 765.6V783.2M432.9 765.6H438.7M432.9 783.2H438.7M447.9 769.8V783.6M445.0 769.8H450.8M445.0 783.6H450.8M460.0 777.0V782.2M457.1 777.0H461.5M457.1 782.2H461.5M476.6 747.0V764.6M475.1 747.0H479.5M475.1 764.6H479.5M488.7 746.0V770.8M485.8 746.0H491.6M485.8 770.8H491.6M500.8 755.3V770.4M497.9 755.3H503.7M497.9 770.4H503.7M512.9 762.5V768.1M510.0 762.5H514.3M510.0 768.1H514.3M476.6 758.8V783.2M475.1 758.8H479.5M475.1 783.2H479.5M488.7 764.6V784.9M485.8 764.6H491.6M485.8 784.9H491.6M500.8 774.5V788.7M497.9 774.5H503.7M512.9 782.2V787.4M510.0 782.2H514.3M510.0 787.4H514.3M529.5 747.0V764.6M528.0 747.0H532.4M528.0 764.6H532.4M541.6 754.6V767.1M538.7 754.6H544.5M538.7 767.1H544.5M553.7 746.4V765.6M550.8 746.4H556.6M550.8 765.6H556.6M565.8 758.4V764.6M562.9 758.4H567.2M562.9 764.6H567.2M529.5 771.8V777.0M528.0 771.8H532.4M528.0 777.0H532.4M541.6 761.5V780.7M538.7 761.5H544.5M538.7 780.7H544.5M553.7 770.4V783.2M550.8 770.4H556.6M550.8 783.2H556.6M565.8 771.8V776.0M562.9 771.8H567.2M562.9 776.0H567.2M582.4 765.0V786.3M580.9 765.0H585.3M580.9 786.3H585.3M594.5 753.6V769.8M591.6 753.6H597.4M591.6 769.8H597.4M606.5 751.1V779.5M603.6 751.1H609.4M603.6 779.5H609.4M618.6 746.0V773.9M615.7 746.0H620.1M615.7 773.9H620.1M582.4 774.9V778.0M580.9 774.9H585.3M580.9 778.0H585.3M594.5 773.3V787.4M591.6 773.3H597.4M591.6 787.4H597.4M606.5 784.2V788.4M603.6 784.2H609.4M603.6 788.4H609.4M618.6 779.1V784.7M615.7 779.1H620.1M615.7 784.7H620.1M635.2 753.8V778.0M633.8 753.8H638.1M633.8 778.0H638.1M647.3 754.6V759.8M644.4 754.6H650.2M644.4 759.8H650.2M659.4 746.0V772.9M656.5 746.0H662.3M656.5 772.9H662.3M671.5 759.4V774.9M668.6 759.4H673.0M668.6 774.9H673.0M635.2 779.1V784.2M633.8 779.1H638.1M633.8 784.2H638.1M647.3 778.0V787.4M644.4 778.0H650.2M644.4 787.4H650.2M659.4 771.8V788.7M656.5 771.8H662.3M671.5 785.3V788.0M668.6 785.3H673.0M668.6 788.0H673.0" stroke="#000" stroke-width="0.9" fill="none"/>
<g fill="none" stroke="#000" stroke-width="0.9"><rect x="316.5" y="326.5" width="39.2" height="44.3"/><rect x="369.4" y="326.5" width="39.2" height="44.3"/><rect x="422.3" y="326.5" width="39.2" height="44.3"/><rect x="475.1" y="326.5" width="39.2" height="44.3"/><rect x="528.0" y="326.5" width="39.2" height="44.3"/><rect x="580.9" y="326.5" width="39.2" height="44.3"/><rect x="633.8" y="326.5" width="39.2" height="44.3"/><rect x="686.7" y="326.5" width="39.2" height="44.3"/><rect x="739.5" y="326.5" width="39.2" height="44.3"/><rect x="316.5" y="378.7" width="39.2" height="44.3"/><rect x="369.4" y="378.7" width="39.2" height="44.3"/><rect x="422.3" y="378.7" width="39.2" height="44.3"/><rect x="475.1" y="378.7" width="39.2" height="44.3"/><rect x="528.0" y="378.7" width="39.2" height="44.3"/><rect x="580.9" y="378.7" width="39.2" height="44.3"/><rect x="633.8" y="378.7" width="39.2" height="44.3"/><rect x="686.7" y="378.7" width="39.2" height="44.3"/><rect x="739.5" y="378.7" width="39.2" height="44.3"/><rect x="316.5" y="431.0" width="39.2" height="44.3"/><rect x="369.4" y="431.0" width="39.2" height="44.3"/><rect x="422.3" y="431.0" width="39.2" height="44.3"/><rect x="475.1" y="431.0" width="39.2" height="44.3"/><rect x="528.0" y="431.0" width="39.2" height="44.3"/><rect x="580.9" y="431.0" width="39.2" height="44.3"/><rect x="633.8" y="431.0" width="39.2" height="44.3"/><rect x="686.7" y="431.0" width="39.2" height="44.3"/><rect x="739.5" y="431.0" width="39.2" height="44.3"/><rect x="316.5" y="483.2" width="39.2" height="44.3"/><rect x="369.4" y="483.2" width="39.2" height="44.3"/><rect x="422.3" y="483.2" width="39.2" height="44.3"/><rect x="475.1" y="483.2" width="39.2" height="44.3"/><rect x="528.0" y="483.2" width="39.2" height="44.3"/><rect x="580.9" y="483.2" width="39.2" height="44.3"/><rect x="633.8" y="483.2" width="39.2" height="44.3"/><rect x="686.7" y="483.2" width="39.2" height="44.3"/><rect x="739.5" y="483.2" width="39.2" height="44.3"/><rect x="316.5" y="535.5" width="39.2" height="44.3"/><rect x="369.4" y="535.5" width="39.2" height="44.3"/><rect x="422.3" y="535.5" width="39.2" height="44.3"/><rect x="475.1" y="535.5" width="39.2" height="44.3"/><rect x="528.0" y="535.5" width="39.2" height="44.3"/><rect x="580.9" y="535.5" width="39.2" height="44.3"/><rect x="633.8" y="535.5" width="39.2" height="44.3"/><rect x="686.7" y="535.5" width="39.2" height="44.3"/><rect x="739.5" y="535.5" width="39.2" height="44.3"/><rect x="316.5" y="587.7" width="39.2" height="44.3"/><rect x="369.4" y="587.7" width="39.2" height="44.3"/><rect x="422.3" y="587.7" width="39.2" height="44.3"/><rect x="475.1" y="587.7" width="39.2" height="44.3"/><rect x="528.0" y="587.7" width="39.2" height="44.3"/><rect x="580.9" y="587.7" width="39.2" height="44.3"/><rect x="633.8" y="587.7" width="39.2" height="44.3"/><rect x="686.7" y="587.7" width="39.2" height="44.3"/><rect x="739.5" y="587.7" width="39.2" height="44.3"/><rect x="316.5" y="639.9" width="39.2" height="44.3"/><rect x="369.4" y="639.9" width="39.2" height="44.3"/><rect x="422.3" y="639.9" width="39.2" height="44.3"/><rect x="475.1" y="639.9" width="39.2" height="44.3"/><rect x="528.0" y="639.9" width="39.2" height="44.3"/><rect x="580.9" y="639.9" width="39.2" height="44.3"/><rect x="633.8" y="639.9" width="39.2" height="44.3"/><rect x="686.7" y="639.9" width="39.2" height="44.3"/><rect x="739.5" y="639.9" width="39.2" height="44.3"/><rect x="316.5" y="692.2" width="39.2" height="44.3"/><rect x="369.4" y="692.2" width="39.2" height="44.3"/><rect x="422.3" y="692.2" width="39.2" height="44.3"/><rect x="475.1" y="692.2" width="39.2" height="44.3"/><rect x="528.0" y="692.2" width="39.2" height="44.3"/><rect x="580.9" y="692.2" width="39.2" height="44.3"/><rect x="633.8" y="692.2" width="39.2" height="44.3"/><rect x="686.7" y="692.2" width="39.2" height="44.3"/><rect x="739.5" y="692.2" width="39.2" height="44.3"/><rect x="316.5" y="744.4" width="39.2" height="44.3"/><rect x="369.4" y="744.4" width="39.2" height="44.3"/><rect x="422.3" y="744.4" width="39.2" height="44.3"/><rect x="475.1" y="744.4" width="39.2" height="44.3"/><rect x="528.0" y="744.4" width="39.2" height="44.3"/><rect x="580.9" y="744.4" width="39.2" height="44.3"/><rect x="633.8" y="744.4" width="39.2" height="44.3"/></g>
<g font-size="9" font-weight="bold" font-style="italic" text-anchor="middle"><text x="336.1" y="326.1">Cdc45</text><text x="389.0" y="326.1">Spag5</text><text x="441.9" y="326.1">Mcm2</text><text x="494.7" y="326.1">Dnmt1</text><text x="547.6" y="326.1">Mcm5</text><text x="600.5" y="326.1">Asf1b</text><text x="653.4" y="326.1">Cdc20</text><text x="706.3" y="326.1">Cdt1</text><text x="759.1" y="326.1">Pola1</text><text x="336.1" y="378.3">Pole</text><text x="389.0" y="378.3">Hmgb3</text><text x="441.9" y="378.3">Brca1</text><text x="494.7" y="378.3">Birc5</text><text x="547.6" y="378.3">Mybl2</text><text x="600.5" y="378.3">Kpna2</text><text x="653.4" y="378.3">Cdk1</text><text x="706.3" y="378.3">Hmmr</text><text x="759.1" y="378.3">Hus1</text><text x="336.1" y="430.6">Shmt1</text><text x="389.0" y="430.6">Rrm2</text><text x="441.9" y="430.6">Aurkb</text><text x="494.7" y="430.6">Top2a</text><text x="547.6" y="430.6">Trip13</text><text x="600.5" y="430.6">Dhfr</text><text x="653.4" y="430.6">Diaph3</text><text x="706.3" y="430.6">Atad2</text><text x="759.1" y="430.6">Mcm4</text><text x="336.1" y="482.8">Tfrc</text><text x="389.0" y="482.8">Racgap1</text><text x="441.9" y="482.8">Cdca3</text><text x="494.7" y="482.8">Hells</text><text x="547.6" y="482.8">Prdx4</text><text x="600.5" y="482.8">Pa2g4</text><text x="653.4" y="482.8">Prim1</text><text x="706.3" y="482.8">Tk1</text><text x="759.1" y="482.8">Tyms</text><text x="336.1" y="535.1">Plk4</text><text x="389.0" y="535.1">Mcm6</text><text x="441.9" y="535.1">Nop56</text><text x="494.7" y="535.1">Gins1</text><text x="547.6" y="535.1">Aurka</text><text x="600.5" y="535.1">Kif2c</text><text x="653.4" y="535.1">Nasp</text><text x="706.3" y="535.1">Stmn1</text><text x="759.1" y="535.1">Cdca8</text><text x="336.1" y="587.3">Rpa2</text><text x="389.0" y="587.3">Dck</text><text x="441.9" y="587.3">Cit</text><text x="494.7" y="587.3">Ung</text><text x="547.6" y="587.3">Ezh2</text><text x="600.5" y="587.3">Mad2l1</text><text x="653.4" y="587.3">Plk1</text><text x="706.3" y="587.3">Mki67</text><text x="759.1" y="587.3">Wee1</text><text x="336.1" y="639.5">Chek1</text><text x="389.0" y="639.5">Ccnb2</text><text x="441.9" y="639.5">Cdc25a</text><text x="494.7" y="639.5">Rfc3</text><text x="547.6" y="639.5">Smc4</text><text x="600.5" y="639.5">Melk</text><text x="653.4" y="639.5">Tacc3</text><text x="706.3" y="639.5">Dlgap5</text><text x="759.1" y="639.5">Cdkn3</text><text x="336.1" y="691.8">H2afz</text><text x="389.0" y="691.8">Ncapd2</text><text x="441.9" y="691.8">Timeless</text><text x="494.7" y="691.8">Bub1b</text><text x="547.6" y="691.8">Ccnb1</text><text x="600.5" y="691.8">Cenpe</text><text x="653.4" y="691.8">Mms22l</text><text x="706.3" y="691.8">H2afx</text><text x="759.1" y="691.8">Tcf19</text><text x="336.1" y="744.0">Kif18b</text><text x="389.0" y="744.0">Nup107</text><text x="441.9" y="744.0">Lig1</text><text x="494.7" y="744.0">Espl1</text><text x="547.6" y="744.0">Lyar</text><text x="600.5" y="744.0">Cenpm</text><text x="653.4" y="744.0">Spc24</text></g>
<g font-size="7.6" font-weight="bold" text-anchor="middle"><text x="319.0" y="803">H</text><text x="329.4" y="803">N</text><text x="342.0" y="803">EC</text><text x="357.0" y="803">LC</text><text x="372.4" y="803">H</text><text x="382.8" y="803">N</text><text x="395.4" y="803">EC</text><text x="410.4" y="803">LC</text><text x="425.8" y="803">H</text><text x="436.2" y="803">N</text><text x="448.8" y="803">EC</text><text x="463.8" y="803">LC</text><text x="479.2" y="803">H</text><text x="489.6" y="803">N</text><text x="502.2" y="803">EC</text><text x="517.2" y="803">LC</text><text x="532.6" y="803">H</text><text x="543.0" y="803">N</text><text x="555.6" y="803">EC</text><text x="570.6" y="803">LC</text><text x="586.0" y="803">H</text><text x="596.4" y="803">N</text><text x="609.0" y="803">EC</text><text x="624.0" y="803">LC</text><text x="639.4" y="803">H</text><text x="649.8" y="803">N</text><text x="662.4" y="803">EC</text><text x="677.4" y="803">LC</text></g>
<line x1="689.4" y1="757.4" x2="727.8" y2="757.4" stroke="#ff0000" stroke-width="2.3"/>
<line x1="689.4" y1="769.6" x2="727.8" y2="769.6" stroke="#0000ff" stroke-width="2.3"/>
<text x="735.9" y="758.2" font-size="11.5">PyMT</text><text x="735.9" y="772.0" font-size="11.5">FVB</text>
</svg>
</body></html>
